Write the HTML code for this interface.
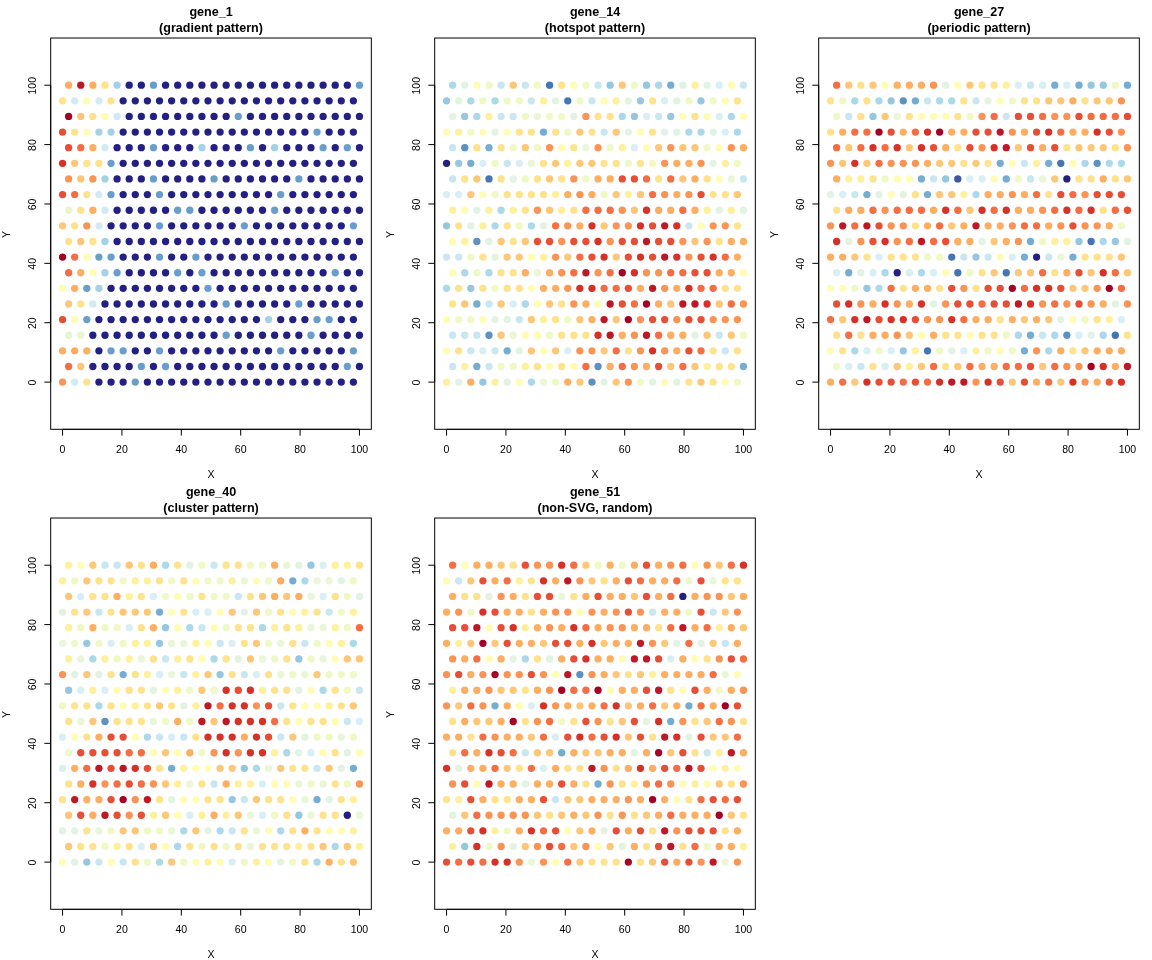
<!DOCTYPE html>
<html><head><meta charset="utf-8"><title>Spatial gene expression patterns</title>
<style>
html,body{margin:0;padding:0;background:#fff;}
body{width:1152px;height:960px;overflow:hidden;font-family:"Liberation Sans",sans-serif;}
svg{display:block;will-change:transform;}
text{font-family:"Liberation Sans",sans-serif;fill:#000;text-anchor:middle;}
.a{font-size:10.56px;}
.t{font-size:12.56px;font-weight:bold;}
</style></head><body>
<svg width="1152" height="960" viewBox="0 0 1152 960">
<rect width="1152" height="960" fill="#fff"/>
<g>
<g fill="#FDAE61"><circle cx="68.62" cy="85.22" r="3.65"/><circle cx="92.86" cy="85.22" r="3.65"/><circle cx="92.86" cy="147.72" r="3.65"/><circle cx="92.86" cy="210.23" r="3.65"/><circle cx="80.74" cy="272.73" r="3.65"/><circle cx="74.68" cy="288.35" r="3.65"/><circle cx="62.56" cy="350.86" r="3.65"/><circle cx="74.68" cy="350.86" r="3.65"/><circle cx="86.8" cy="350.86" r="3.65"/></g>
<g fill="#BE1826"><circle cx="80.74" cy="85.22" r="3.65"/></g>
<g fill="#FEE38C"><circle cx="104.98" cy="85.22" r="3.65"/><circle cx="62.56" cy="100.85" r="3.65"/><circle cx="111.04" cy="100.85" r="3.65"/><circle cx="92.86" cy="116.47" r="3.65"/><circle cx="74.68" cy="132.1" r="3.65"/><circle cx="86.8" cy="163.35" r="3.65"/><circle cx="98.92" cy="163.35" r="3.65"/><circle cx="86.8" cy="194.6" r="3.65"/><circle cx="80.74" cy="210.23" r="3.65"/><circle cx="74.68" cy="225.85" r="3.65"/><circle cx="68.62" cy="241.48" r="3.65"/><circle cx="92.86" cy="241.48" r="3.65"/><circle cx="80.74" cy="303.98" r="3.65"/><circle cx="86.8" cy="382.11" r="3.65"/></g>
<g fill="#A3D2E5"><circle cx="117.09" cy="85.22" r="3.65"/><circle cx="98.92" cy="132.1" r="3.65"/><circle cx="111.04" cy="132.1" r="3.65"/><circle cx="201.92" cy="147.72" r="3.65"/><circle cx="274.63" cy="147.72" r="3.65"/><circle cx="104.98" cy="178.97" r="3.65"/><circle cx="104.98" cy="241.48" r="3.65"/><circle cx="104.98" cy="272.73" r="3.65"/><circle cx="98.92" cy="288.35" r="3.65"/><circle cx="268.57" cy="319.61" r="3.65"/></g>
<g fill="#242083"><circle cx="129.21" cy="85.22" r="3.65"/><circle cx="141.33" cy="85.22" r="3.65"/><circle cx="165.57" cy="85.22" r="3.65"/><circle cx="177.68" cy="85.22" r="3.65"/><circle cx="189.8" cy="85.22" r="3.65"/><circle cx="201.92" cy="85.22" r="3.65"/><circle cx="214.04" cy="85.22" r="3.65"/><circle cx="226.16" cy="85.22" r="3.65"/><circle cx="238.27" cy="85.22" r="3.65"/><circle cx="250.39" cy="85.22" r="3.65"/><circle cx="262.51" cy="85.22" r="3.65"/><circle cx="274.63" cy="85.22" r="3.65"/><circle cx="286.74" cy="85.22" r="3.65"/><circle cx="298.86" cy="85.22" r="3.65"/><circle cx="310.98" cy="85.22" r="3.65"/><circle cx="323.1" cy="85.22" r="3.65"/><circle cx="335.22" cy="85.22" r="3.65"/><circle cx="347.33" cy="85.22" r="3.65"/><circle cx="123.15" cy="100.85" r="3.65"/><circle cx="135.27" cy="100.85" r="3.65"/><circle cx="147.39" cy="100.85" r="3.65"/><circle cx="159.51" cy="100.85" r="3.65"/><circle cx="171.62" cy="100.85" r="3.65"/><circle cx="183.74" cy="100.85" r="3.65"/><circle cx="195.86" cy="100.85" r="3.65"/><circle cx="207.98" cy="100.85" r="3.65"/><circle cx="220.1" cy="100.85" r="3.65"/><circle cx="232.21" cy="100.85" r="3.65"/><circle cx="244.33" cy="100.85" r="3.65"/><circle cx="256.45" cy="100.85" r="3.65"/><circle cx="268.57" cy="100.85" r="3.65"/><circle cx="280.69" cy="100.85" r="3.65"/><circle cx="292.8" cy="100.85" r="3.65"/><circle cx="304.92" cy="100.85" r="3.65"/><circle cx="317.04" cy="100.85" r="3.65"/><circle cx="329.16" cy="100.85" r="3.65"/><circle cx="341.28" cy="100.85" r="3.65"/><circle cx="353.39" cy="100.85" r="3.65"/><circle cx="129.21" cy="116.47" r="3.65"/><circle cx="141.33" cy="116.47" r="3.65"/><circle cx="153.45" cy="116.47" r="3.65"/><circle cx="165.57" cy="116.47" r="3.65"/><circle cx="177.68" cy="116.47" r="3.65"/><circle cx="189.8" cy="116.47" r="3.65"/><circle cx="201.92" cy="116.47" r="3.65"/><circle cx="214.04" cy="116.47" r="3.65"/><circle cx="226.16" cy="116.47" r="3.65"/><circle cx="250.39" cy="116.47" r="3.65"/><circle cx="262.51" cy="116.47" r="3.65"/><circle cx="274.63" cy="116.47" r="3.65"/><circle cx="286.74" cy="116.47" r="3.65"/><circle cx="298.86" cy="116.47" r="3.65"/><circle cx="310.98" cy="116.47" r="3.65"/><circle cx="323.1" cy="116.47" r="3.65"/><circle cx="335.22" cy="116.47" r="3.65"/><circle cx="347.33" cy="116.47" r="3.65"/><circle cx="359.45" cy="116.47" r="3.65"/><circle cx="123.15" cy="132.1" r="3.65"/><circle cx="135.27" cy="132.1" r="3.65"/><circle cx="147.39" cy="132.1" r="3.65"/><circle cx="159.51" cy="132.1" r="3.65"/><circle cx="171.62" cy="132.1" r="3.65"/><circle cx="183.74" cy="132.1" r="3.65"/><circle cx="195.86" cy="132.1" r="3.65"/><circle cx="207.98" cy="132.1" r="3.65"/><circle cx="220.1" cy="132.1" r="3.65"/><circle cx="232.21" cy="132.1" r="3.65"/><circle cx="244.33" cy="132.1" r="3.65"/><circle cx="256.45" cy="132.1" r="3.65"/><circle cx="268.57" cy="132.1" r="3.65"/><circle cx="280.69" cy="132.1" r="3.65"/><circle cx="292.8" cy="132.1" r="3.65"/><circle cx="304.92" cy="132.1" r="3.65"/><circle cx="329.16" cy="132.1" r="3.65"/><circle cx="341.28" cy="132.1" r="3.65"/><circle cx="353.39" cy="132.1" r="3.65"/><circle cx="117.09" cy="147.72" r="3.65"/><circle cx="129.21" cy="147.72" r="3.65"/><circle cx="141.33" cy="147.72" r="3.65"/><circle cx="165.57" cy="147.72" r="3.65"/><circle cx="177.68" cy="147.72" r="3.65"/><circle cx="189.8" cy="147.72" r="3.65"/><circle cx="214.04" cy="147.72" r="3.65"/><circle cx="226.16" cy="147.72" r="3.65"/><circle cx="238.27" cy="147.72" r="3.65"/><circle cx="262.51" cy="147.72" r="3.65"/><circle cx="286.74" cy="147.72" r="3.65"/><circle cx="298.86" cy="147.72" r="3.65"/><circle cx="310.98" cy="147.72" r="3.65"/><circle cx="335.22" cy="147.72" r="3.65"/><circle cx="359.45" cy="147.72" r="3.65"/><circle cx="123.15" cy="163.35" r="3.65"/><circle cx="135.27" cy="163.35" r="3.65"/><circle cx="147.39" cy="163.35" r="3.65"/><circle cx="159.51" cy="163.35" r="3.65"/><circle cx="171.62" cy="163.35" r="3.65"/><circle cx="183.74" cy="163.35" r="3.65"/><circle cx="195.86" cy="163.35" r="3.65"/><circle cx="207.98" cy="163.35" r="3.65"/><circle cx="220.1" cy="163.35" r="3.65"/><circle cx="232.21" cy="163.35" r="3.65"/><circle cx="244.33" cy="163.35" r="3.65"/><circle cx="256.45" cy="163.35" r="3.65"/><circle cx="268.57" cy="163.35" r="3.65"/><circle cx="280.69" cy="163.35" r="3.65"/><circle cx="292.8" cy="163.35" r="3.65"/><circle cx="304.92" cy="163.35" r="3.65"/><circle cx="317.04" cy="163.35" r="3.65"/><circle cx="329.16" cy="163.35" r="3.65"/><circle cx="341.28" cy="163.35" r="3.65"/><circle cx="353.39" cy="163.35" r="3.65"/><circle cx="117.09" cy="178.97" r="3.65"/><circle cx="129.21" cy="178.97" r="3.65"/><circle cx="141.33" cy="178.97" r="3.65"/><circle cx="165.57" cy="178.97" r="3.65"/><circle cx="177.68" cy="178.97" r="3.65"/><circle cx="189.8" cy="178.97" r="3.65"/><circle cx="201.92" cy="178.97" r="3.65"/><circle cx="226.16" cy="178.97" r="3.65"/><circle cx="238.27" cy="178.97" r="3.65"/><circle cx="250.39" cy="178.97" r="3.65"/><circle cx="262.51" cy="178.97" r="3.65"/><circle cx="274.63" cy="178.97" r="3.65"/><circle cx="286.74" cy="178.97" r="3.65"/><circle cx="310.98" cy="178.97" r="3.65"/><circle cx="323.1" cy="178.97" r="3.65"/><circle cx="335.22" cy="178.97" r="3.65"/><circle cx="347.33" cy="178.97" r="3.65"/><circle cx="359.45" cy="178.97" r="3.65"/><circle cx="123.15" cy="194.6" r="3.65"/><circle cx="135.27" cy="194.6" r="3.65"/><circle cx="147.39" cy="194.6" r="3.65"/><circle cx="171.62" cy="194.6" r="3.65"/><circle cx="183.74" cy="194.6" r="3.65"/><circle cx="195.86" cy="194.6" r="3.65"/><circle cx="207.98" cy="194.6" r="3.65"/><circle cx="220.1" cy="194.6" r="3.65"/><circle cx="232.21" cy="194.6" r="3.65"/><circle cx="244.33" cy="194.6" r="3.65"/><circle cx="256.45" cy="194.6" r="3.65"/><circle cx="268.57" cy="194.6" r="3.65"/><circle cx="292.8" cy="194.6" r="3.65"/><circle cx="304.92" cy="194.6" r="3.65"/><circle cx="317.04" cy="194.6" r="3.65"/><circle cx="329.16" cy="194.6" r="3.65"/><circle cx="341.28" cy="194.6" r="3.65"/><circle cx="353.39" cy="194.6" r="3.65"/><circle cx="117.09" cy="210.23" r="3.65"/><circle cx="129.21" cy="210.23" r="3.65"/><circle cx="141.33" cy="210.23" r="3.65"/><circle cx="153.45" cy="210.23" r="3.65"/><circle cx="165.57" cy="210.23" r="3.65"/><circle cx="201.92" cy="210.23" r="3.65"/><circle cx="214.04" cy="210.23" r="3.65"/><circle cx="226.16" cy="210.23" r="3.65"/><circle cx="238.27" cy="210.23" r="3.65"/><circle cx="250.39" cy="210.23" r="3.65"/><circle cx="262.51" cy="210.23" r="3.65"/><circle cx="286.74" cy="210.23" r="3.65"/><circle cx="298.86" cy="210.23" r="3.65"/><circle cx="310.98" cy="210.23" r="3.65"/><circle cx="323.1" cy="210.23" r="3.65"/><circle cx="335.22" cy="210.23" r="3.65"/><circle cx="347.33" cy="210.23" r="3.65"/><circle cx="359.45" cy="210.23" r="3.65"/><circle cx="111.04" cy="225.85" r="3.65"/><circle cx="123.15" cy="225.85" r="3.65"/><circle cx="135.27" cy="225.85" r="3.65"/><circle cx="147.39" cy="225.85" r="3.65"/><circle cx="171.62" cy="225.85" r="3.65"/><circle cx="183.74" cy="225.85" r="3.65"/><circle cx="195.86" cy="225.85" r="3.65"/><circle cx="207.98" cy="225.85" r="3.65"/><circle cx="220.1" cy="225.85" r="3.65"/><circle cx="232.21" cy="225.85" r="3.65"/><circle cx="256.45" cy="225.85" r="3.65"/><circle cx="268.57" cy="225.85" r="3.65"/><circle cx="280.69" cy="225.85" r="3.65"/><circle cx="292.8" cy="225.85" r="3.65"/><circle cx="304.92" cy="225.85" r="3.65"/><circle cx="317.04" cy="225.85" r="3.65"/><circle cx="329.16" cy="225.85" r="3.65"/><circle cx="341.28" cy="225.85" r="3.65"/><circle cx="117.09" cy="241.48" r="3.65"/><circle cx="129.21" cy="241.48" r="3.65"/><circle cx="141.33" cy="241.48" r="3.65"/><circle cx="153.45" cy="241.48" r="3.65"/><circle cx="165.57" cy="241.48" r="3.65"/><circle cx="177.68" cy="241.48" r="3.65"/><circle cx="189.8" cy="241.48" r="3.65"/><circle cx="201.92" cy="241.48" r="3.65"/><circle cx="214.04" cy="241.48" r="3.65"/><circle cx="226.16" cy="241.48" r="3.65"/><circle cx="238.27" cy="241.48" r="3.65"/><circle cx="250.39" cy="241.48" r="3.65"/><circle cx="262.51" cy="241.48" r="3.65"/><circle cx="274.63" cy="241.48" r="3.65"/><circle cx="286.74" cy="241.48" r="3.65"/><circle cx="298.86" cy="241.48" r="3.65"/><circle cx="310.98" cy="241.48" r="3.65"/><circle cx="323.1" cy="241.48" r="3.65"/><circle cx="335.22" cy="241.48" r="3.65"/><circle cx="347.33" cy="241.48" r="3.65"/><circle cx="359.45" cy="241.48" r="3.65"/><circle cx="123.15" cy="257.1" r="3.65"/><circle cx="135.27" cy="257.1" r="3.65"/><circle cx="147.39" cy="257.1" r="3.65"/><circle cx="171.62" cy="257.1" r="3.65"/><circle cx="183.74" cy="257.1" r="3.65"/><circle cx="207.98" cy="257.1" r="3.65"/><circle cx="220.1" cy="257.1" r="3.65"/><circle cx="232.21" cy="257.1" r="3.65"/><circle cx="244.33" cy="257.1" r="3.65"/><circle cx="256.45" cy="257.1" r="3.65"/><circle cx="268.57" cy="257.1" r="3.65"/><circle cx="280.69" cy="257.1" r="3.65"/><circle cx="292.8" cy="257.1" r="3.65"/><circle cx="304.92" cy="257.1" r="3.65"/><circle cx="317.04" cy="257.1" r="3.65"/><circle cx="329.16" cy="257.1" r="3.65"/><circle cx="341.28" cy="257.1" r="3.65"/><circle cx="353.39" cy="257.1" r="3.65"/><circle cx="129.21" cy="272.73" r="3.65"/><circle cx="141.33" cy="272.73" r="3.65"/><circle cx="153.45" cy="272.73" r="3.65"/><circle cx="165.57" cy="272.73" r="3.65"/><circle cx="189.8" cy="272.73" r="3.65"/><circle cx="214.04" cy="272.73" r="3.65"/><circle cx="226.16" cy="272.73" r="3.65"/><circle cx="238.27" cy="272.73" r="3.65"/><circle cx="250.39" cy="272.73" r="3.65"/><circle cx="262.51" cy="272.73" r="3.65"/><circle cx="274.63" cy="272.73" r="3.65"/><circle cx="286.74" cy="272.73" r="3.65"/><circle cx="298.86" cy="272.73" r="3.65"/><circle cx="310.98" cy="272.73" r="3.65"/><circle cx="323.1" cy="272.73" r="3.65"/><circle cx="347.33" cy="272.73" r="3.65"/><circle cx="359.45" cy="272.73" r="3.65"/><circle cx="111.04" cy="288.35" r="3.65"/><circle cx="123.15" cy="288.35" r="3.65"/><circle cx="135.27" cy="288.35" r="3.65"/><circle cx="147.39" cy="288.35" r="3.65"/><circle cx="159.51" cy="288.35" r="3.65"/><circle cx="171.62" cy="288.35" r="3.65"/><circle cx="183.74" cy="288.35" r="3.65"/><circle cx="195.86" cy="288.35" r="3.65"/><circle cx="220.1" cy="288.35" r="3.65"/><circle cx="232.21" cy="288.35" r="3.65"/><circle cx="244.33" cy="288.35" r="3.65"/><circle cx="256.45" cy="288.35" r="3.65"/><circle cx="268.57" cy="288.35" r="3.65"/><circle cx="280.69" cy="288.35" r="3.65"/><circle cx="292.8" cy="288.35" r="3.65"/><circle cx="304.92" cy="288.35" r="3.65"/><circle cx="317.04" cy="288.35" r="3.65"/><circle cx="329.16" cy="288.35" r="3.65"/><circle cx="341.28" cy="288.35" r="3.65"/><circle cx="353.39" cy="288.35" r="3.65"/><circle cx="104.98" cy="303.98" r="3.65"/><circle cx="117.09" cy="303.98" r="3.65"/><circle cx="129.21" cy="303.98" r="3.65"/><circle cx="141.33" cy="303.98" r="3.65"/><circle cx="153.45" cy="303.98" r="3.65"/><circle cx="165.57" cy="303.98" r="3.65"/><circle cx="177.68" cy="303.98" r="3.65"/><circle cx="189.8" cy="303.98" r="3.65"/><circle cx="201.92" cy="303.98" r="3.65"/><circle cx="214.04" cy="303.98" r="3.65"/><circle cx="238.27" cy="303.98" r="3.65"/><circle cx="250.39" cy="303.98" r="3.65"/><circle cx="262.51" cy="303.98" r="3.65"/><circle cx="274.63" cy="303.98" r="3.65"/><circle cx="286.74" cy="303.98" r="3.65"/><circle cx="310.98" cy="303.98" r="3.65"/><circle cx="323.1" cy="303.98" r="3.65"/><circle cx="335.22" cy="303.98" r="3.65"/><circle cx="347.33" cy="303.98" r="3.65"/><circle cx="359.45" cy="303.98" r="3.65"/><circle cx="98.92" cy="319.61" r="3.65"/><circle cx="111.04" cy="319.61" r="3.65"/><circle cx="123.15" cy="319.61" r="3.65"/><circle cx="135.27" cy="319.61" r="3.65"/><circle cx="147.39" cy="319.61" r="3.65"/><circle cx="159.51" cy="319.61" r="3.65"/><circle cx="171.62" cy="319.61" r="3.65"/><circle cx="183.74" cy="319.61" r="3.65"/><circle cx="195.86" cy="319.61" r="3.65"/><circle cx="207.98" cy="319.61" r="3.65"/><circle cx="220.1" cy="319.61" r="3.65"/><circle cx="232.21" cy="319.61" r="3.65"/><circle cx="244.33" cy="319.61" r="3.65"/><circle cx="256.45" cy="319.61" r="3.65"/><circle cx="280.69" cy="319.61" r="3.65"/><circle cx="292.8" cy="319.61" r="3.65"/><circle cx="304.92" cy="319.61" r="3.65"/><circle cx="341.28" cy="319.61" r="3.65"/><circle cx="353.39" cy="319.61" r="3.65"/><circle cx="92.86" cy="335.23" r="3.65"/><circle cx="104.98" cy="335.23" r="3.65"/><circle cx="117.09" cy="335.23" r="3.65"/><circle cx="129.21" cy="335.23" r="3.65"/><circle cx="141.33" cy="335.23" r="3.65"/><circle cx="153.45" cy="335.23" r="3.65"/><circle cx="165.57" cy="335.23" r="3.65"/><circle cx="177.68" cy="335.23" r="3.65"/><circle cx="189.8" cy="335.23" r="3.65"/><circle cx="201.92" cy="335.23" r="3.65"/><circle cx="214.04" cy="335.23" r="3.65"/><circle cx="238.27" cy="335.23" r="3.65"/><circle cx="250.39" cy="335.23" r="3.65"/><circle cx="262.51" cy="335.23" r="3.65"/><circle cx="274.63" cy="335.23" r="3.65"/><circle cx="286.74" cy="335.23" r="3.65"/><circle cx="298.86" cy="335.23" r="3.65"/><circle cx="323.1" cy="335.23" r="3.65"/><circle cx="335.22" cy="335.23" r="3.65"/><circle cx="347.33" cy="335.23" r="3.65"/><circle cx="359.45" cy="335.23" r="3.65"/><circle cx="98.92" cy="350.86" r="3.65"/><circle cx="135.27" cy="350.86" r="3.65"/><circle cx="147.39" cy="350.86" r="3.65"/><circle cx="171.62" cy="350.86" r="3.65"/><circle cx="183.74" cy="350.86" r="3.65"/><circle cx="195.86" cy="350.86" r="3.65"/><circle cx="207.98" cy="350.86" r="3.65"/><circle cx="220.1" cy="350.86" r="3.65"/><circle cx="232.21" cy="350.86" r="3.65"/><circle cx="244.33" cy="350.86" r="3.65"/><circle cx="256.45" cy="350.86" r="3.65"/><circle cx="268.57" cy="350.86" r="3.65"/><circle cx="292.8" cy="350.86" r="3.65"/><circle cx="304.92" cy="350.86" r="3.65"/><circle cx="317.04" cy="350.86" r="3.65"/><circle cx="329.16" cy="350.86" r="3.65"/><circle cx="341.28" cy="350.86" r="3.65"/><circle cx="92.86" cy="366.48" r="3.65"/><circle cx="104.98" cy="366.48" r="3.65"/><circle cx="117.09" cy="366.48" r="3.65"/><circle cx="129.21" cy="366.48" r="3.65"/><circle cx="153.45" cy="366.48" r="3.65"/><circle cx="177.68" cy="366.48" r="3.65"/><circle cx="189.8" cy="366.48" r="3.65"/><circle cx="201.92" cy="366.48" r="3.65"/><circle cx="214.04" cy="366.48" r="3.65"/><circle cx="226.16" cy="366.48" r="3.65"/><circle cx="238.27" cy="366.48" r="3.65"/><circle cx="250.39" cy="366.48" r="3.65"/><circle cx="262.51" cy="366.48" r="3.65"/><circle cx="274.63" cy="366.48" r="3.65"/><circle cx="286.74" cy="366.48" r="3.65"/><circle cx="298.86" cy="366.48" r="3.65"/><circle cx="310.98" cy="366.48" r="3.65"/><circle cx="323.1" cy="366.48" r="3.65"/><circle cx="335.22" cy="366.48" r="3.65"/><circle cx="359.45" cy="366.48" r="3.65"/><circle cx="98.92" cy="382.11" r="3.65"/><circle cx="111.04" cy="382.11" r="3.65"/><circle cx="123.15" cy="382.11" r="3.65"/><circle cx="147.39" cy="382.11" r="3.65"/><circle cx="159.51" cy="382.11" r="3.65"/><circle cx="171.62" cy="382.11" r="3.65"/><circle cx="183.74" cy="382.11" r="3.65"/><circle cx="195.86" cy="382.11" r="3.65"/><circle cx="207.98" cy="382.11" r="3.65"/><circle cx="220.1" cy="382.11" r="3.65"/><circle cx="232.21" cy="382.11" r="3.65"/><circle cx="244.33" cy="382.11" r="3.65"/><circle cx="256.45" cy="382.11" r="3.65"/><circle cx="268.57" cy="382.11" r="3.65"/><circle cx="280.69" cy="382.11" r="3.65"/><circle cx="292.8" cy="382.11" r="3.65"/><circle cx="304.92" cy="382.11" r="3.65"/><circle cx="317.04" cy="382.11" r="3.65"/><circle cx="329.16" cy="382.11" r="3.65"/><circle cx="341.28" cy="382.11" r="3.65"/><circle cx="353.39" cy="382.11" r="3.65"/></g>
<g fill="#689FCA"><circle cx="153.45" cy="85.22" r="3.65"/><circle cx="359.45" cy="85.22" r="3.65"/><circle cx="238.27" cy="116.47" r="3.65"/><circle cx="317.04" cy="132.1" r="3.65"/><circle cx="153.45" cy="147.72" r="3.65"/><circle cx="250.39" cy="147.72" r="3.65"/><circle cx="323.1" cy="147.72" r="3.65"/><circle cx="347.33" cy="147.72" r="3.65"/><circle cx="111.04" cy="163.35" r="3.65"/><circle cx="153.45" cy="178.97" r="3.65"/><circle cx="214.04" cy="178.97" r="3.65"/><circle cx="298.86" cy="178.97" r="3.65"/><circle cx="111.04" cy="194.6" r="3.65"/><circle cx="159.51" cy="194.6" r="3.65"/><circle cx="280.69" cy="194.6" r="3.65"/><circle cx="177.68" cy="210.23" r="3.65"/><circle cx="189.8" cy="210.23" r="3.65"/><circle cx="274.63" cy="210.23" r="3.65"/><circle cx="159.51" cy="225.85" r="3.65"/><circle cx="244.33" cy="225.85" r="3.65"/><circle cx="353.39" cy="225.85" r="3.65"/><circle cx="98.92" cy="257.1" r="3.65"/><circle cx="111.04" cy="257.1" r="3.65"/><circle cx="159.51" cy="257.1" r="3.65"/><circle cx="195.86" cy="257.1" r="3.65"/><circle cx="117.09" cy="272.73" r="3.65"/><circle cx="177.68" cy="272.73" r="3.65"/><circle cx="201.92" cy="272.73" r="3.65"/><circle cx="335.22" cy="272.73" r="3.65"/><circle cx="86.8" cy="288.35" r="3.65"/><circle cx="207.98" cy="288.35" r="3.65"/><circle cx="226.16" cy="303.98" r="3.65"/><circle cx="298.86" cy="303.98" r="3.65"/><circle cx="86.8" cy="319.61" r="3.65"/><circle cx="317.04" cy="319.61" r="3.65"/><circle cx="329.16" cy="319.61" r="3.65"/><circle cx="226.16" cy="335.23" r="3.65"/><circle cx="310.98" cy="335.23" r="3.65"/><circle cx="111.04" cy="350.86" r="3.65"/><circle cx="123.15" cy="350.86" r="3.65"/><circle cx="159.51" cy="350.86" r="3.65"/><circle cx="280.69" cy="350.86" r="3.65"/><circle cx="353.39" cy="350.86" r="3.65"/><circle cx="141.33" cy="366.48" r="3.65"/><circle cx="165.57" cy="366.48" r="3.65"/><circle cx="347.33" cy="366.48" r="3.65"/><circle cx="135.27" cy="382.11" r="3.65"/></g>
<g fill="#D0EBF4"><circle cx="74.68" cy="100.85" r="3.65"/><circle cx="98.92" cy="100.85" r="3.65"/><circle cx="117.09" cy="116.47" r="3.65"/><circle cx="104.98" cy="147.72" r="3.65"/><circle cx="98.92" cy="194.6" r="3.65"/><circle cx="104.98" cy="210.23" r="3.65"/><circle cx="98.92" cy="225.85" r="3.65"/><circle cx="92.86" cy="303.98" r="3.65"/><circle cx="74.68" cy="382.11" r="3.65"/></g>
<g fill="#FFFDB4"><circle cx="86.8" cy="100.85" r="3.65"/><circle cx="104.98" cy="116.47" r="3.65"/><circle cx="86.8" cy="132.1" r="3.65"/><circle cx="86.8" cy="257.1" r="3.65"/><circle cx="92.86" cy="272.73" r="3.65"/><circle cx="62.56" cy="288.35" r="3.65"/><circle cx="74.68" cy="319.61" r="3.65"/></g>
<g fill="#A50026"><circle cx="68.62" cy="116.47" r="3.65"/><circle cx="62.56" cy="257.1" r="3.65"/></g>
<g fill="#FEC778"><circle cx="80.74" cy="116.47" r="3.65"/><circle cx="74.68" cy="163.35" r="3.65"/><circle cx="80.74" cy="178.97" r="3.65"/><circle cx="62.56" cy="225.85" r="3.65"/><circle cx="80.74" cy="241.48" r="3.65"/><circle cx="68.62" cy="303.98" r="3.65"/><circle cx="80.74" cy="366.48" r="3.65"/></g>
<g fill="#E64E35"><circle cx="62.56" cy="132.1" r="3.65"/><circle cx="68.62" cy="147.72" r="3.65"/><circle cx="62.56" cy="194.6" r="3.65"/><circle cx="62.56" cy="319.61" r="3.65"/></g>
<g fill="#F46D43"><circle cx="80.74" cy="147.72" r="3.65"/><circle cx="74.68" cy="194.6" r="3.65"/><circle cx="74.68" cy="257.1" r="3.65"/><circle cx="68.62" cy="272.73" r="3.65"/><circle cx="68.62" cy="366.48" r="3.65"/></g>
<g fill="#D73027"><circle cx="62.56" cy="163.35" r="3.65"/></g>
<g fill="#F99455"><circle cx="68.62" cy="178.97" r="3.65"/><circle cx="92.86" cy="178.97" r="3.65"/><circle cx="86.8" cy="225.85" r="3.65"/><circle cx="62.56" cy="382.11" r="3.65"/></g>
<g fill="#E9F6CD"><circle cx="68.62" cy="210.23" r="3.65"/><circle cx="68.62" cy="335.23" r="3.65"/><circle cx="80.74" cy="335.23" r="3.65"/></g>
<rect x="50.69" y="38.02" width="320.64" height="391.3" fill="none" stroke="#000" stroke-width="1"/>
<path d="M62.56 429.31v6.34M50.69 382.11h-6.34M121.94 429.31v6.34M50.69 322.73h-6.34M181.32 429.31v6.34M50.69 263.35h-6.34M240.7 429.31v6.34M50.69 203.98h-6.34M300.07 429.31v6.34M50.69 144.6h-6.34M359.45 429.31v6.34M50.69 85.22h-6.34M62.56 429.31H359.45M50.69 382.11V85.22" stroke="#000" stroke-width="1" fill="none"/>
<text class="a" x="62.56" y="452.72">0</text>
<text class="a" transform="translate(35.68 382.61) rotate(-90)">0</text>
<text class="a" x="121.94" y="452.72">20</text>
<text class="a" transform="translate(35.68 323.23) rotate(-90)">20</text>
<text class="a" x="181.32" y="452.72">40</text>
<text class="a" transform="translate(35.68 263.85) rotate(-90)">40</text>
<text class="a" x="240.7" y="452.72">60</text>
<text class="a" transform="translate(35.68 204.48) rotate(-90)">60</text>
<text class="a" x="300.07" y="452.72">80</text>
<text class="a" transform="translate(35.68 145.1) rotate(-90)">80</text>
<text class="a" x="359.45" y="452.72">100</text>
<text class="a" transform="translate(35.68 85.72) rotate(-90)">100</text>
<text class="a" x="211.01" y="478.27">X</text>
<text class="a" transform="translate(10.14 234.46) rotate(-90)">Y</text>
<text class="t" x="211.01" y="15.7">gene_1</text>
<text class="t" x="211.01" y="32">(gradient pattern)</text>
</g>
<g>
<g fill="#ABD9E9"><circle cx="452.62" cy="85.22" r="3.65"/><circle cx="658.63" cy="85.22" r="3.65"/><circle cx="470.8" cy="100.85" r="3.65"/><circle cx="495.04" cy="100.85" r="3.65"/><circle cx="476.86" cy="116.47" r="3.65"/><circle cx="622.27" cy="116.47" r="3.65"/><circle cx="731.33" cy="116.47" r="3.65"/><circle cx="688.92" cy="132.1" r="3.65"/><circle cx="701.04" cy="132.1" r="3.65"/><circle cx="737.39" cy="132.1" r="3.65"/><circle cx="501.09" cy="210.23" r="3.65"/><circle cx="495.04" cy="225.85" r="3.65"/><circle cx="531.39" cy="225.85" r="3.65"/><circle cx="464.74" cy="272.73" r="3.65"/><circle cx="488.98" cy="272.73" r="3.65"/><circle cx="446.56" cy="288.35" r="3.65"/><circle cx="525.33" cy="303.98" r="3.65"/><circle cx="531.39" cy="382.11" r="3.65"/></g>
<g fill="#E2F3E4"><circle cx="464.74" cy="85.22" r="3.65"/><circle cx="682.86" cy="85.22" r="3.65"/><circle cx="707.1" cy="85.22" r="3.65"/><circle cx="458.68" cy="100.85" r="3.65"/><circle cx="555.62" cy="100.85" r="3.65"/><circle cx="628.33" cy="100.85" r="3.65"/><circle cx="676.8" cy="100.85" r="3.65"/><circle cx="452.62" cy="116.47" r="3.65"/><circle cx="573.8" cy="116.47" r="3.65"/><circle cx="495.04" cy="132.1" r="3.65"/><circle cx="628.33" cy="132.1" r="3.65"/><circle cx="664.69" cy="132.1" r="3.65"/><circle cx="676.8" cy="132.1" r="3.65"/><circle cx="713.16" cy="132.1" r="3.65"/><circle cx="713.16" cy="163.35" r="3.65"/><circle cx="513.21" cy="178.97" r="3.65"/><circle cx="476.86" cy="210.23" r="3.65"/><circle cx="719.22" cy="210.23" r="3.65"/><circle cx="743.45" cy="210.23" r="3.65"/><circle cx="470.8" cy="225.85" r="3.65"/><circle cx="543.51" cy="225.85" r="3.65"/><circle cx="488.98" cy="241.48" r="3.65"/><circle cx="495.04" cy="257.1" r="3.65"/><circle cx="495.04" cy="319.61" r="3.65"/><circle cx="507.15" cy="319.61" r="3.65"/><circle cx="694.98" cy="335.23" r="3.65"/><circle cx="519.27" cy="350.86" r="3.65"/><circle cx="458.68" cy="382.11" r="3.65"/><circle cx="507.15" cy="382.11" r="3.65"/><circle cx="604.1" cy="382.11" r="3.65"/><circle cx="652.57" cy="382.11" r="3.65"/><circle cx="676.8" cy="382.11" r="3.65"/></g>
<g fill="#FFFDB4"><circle cx="476.86" cy="85.22" r="3.65"/><circle cx="573.8" cy="85.22" r="3.65"/><circle cx="731.33" cy="85.22" r="3.65"/><circle cx="604.1" cy="100.85" r="3.65"/><circle cx="725.28" cy="100.85" r="3.65"/><circle cx="682.86" cy="116.47" r="3.65"/><circle cx="707.1" cy="116.47" r="3.65"/><circle cx="743.45" cy="116.47" r="3.65"/><circle cx="446.56" cy="132.1" r="3.65"/><circle cx="482.92" cy="132.1" r="3.65"/><circle cx="507.15" cy="132.1" r="3.65"/><circle cx="640.45" cy="132.1" r="3.65"/><circle cx="561.68" cy="147.72" r="3.65"/><circle cx="646.51" cy="147.72" r="3.65"/><circle cx="719.22" cy="147.72" r="3.65"/><circle cx="719.22" cy="178.97" r="3.65"/><circle cx="482.92" cy="194.6" r="3.65"/><circle cx="464.74" cy="210.23" r="3.65"/><circle cx="701.04" cy="225.85" r="3.65"/><circle cx="452.62" cy="241.48" r="3.65"/><circle cx="531.39" cy="257.1" r="3.65"/><circle cx="452.62" cy="272.73" r="3.65"/><circle cx="743.45" cy="272.73" r="3.65"/><circle cx="531.39" cy="288.35" r="3.65"/><circle cx="537.45" cy="303.98" r="3.65"/><circle cx="598.04" cy="303.98" r="3.65"/><circle cx="446.56" cy="319.61" r="3.65"/><circle cx="482.92" cy="319.61" r="3.65"/><circle cx="525.33" cy="335.23" r="3.65"/><circle cx="537.45" cy="335.23" r="3.65"/><circle cx="446.56" cy="350.86" r="3.65"/><circle cx="543.51" cy="350.86" r="3.65"/><circle cx="549.57" cy="366.48" r="3.65"/><circle cx="573.8" cy="366.48" r="3.65"/><circle cx="519.27" cy="382.11" r="3.65"/><circle cx="664.69" cy="382.11" r="3.65"/><circle cx="725.28" cy="382.11" r="3.65"/></g>
<g fill="#EFF9C6"><circle cx="488.98" cy="85.22" r="3.65"/><circle cx="537.45" cy="85.22" r="3.65"/><circle cx="585.92" cy="85.22" r="3.65"/><circle cx="634.39" cy="85.22" r="3.65"/><circle cx="482.92" cy="100.85" r="3.65"/><circle cx="507.15" cy="100.85" r="3.65"/><circle cx="519.27" cy="100.85" r="3.65"/><circle cx="579.86" cy="100.85" r="3.65"/><circle cx="688.92" cy="100.85" r="3.65"/><circle cx="713.16" cy="100.85" r="3.65"/><circle cx="525.33" cy="116.47" r="3.65"/><circle cx="549.57" cy="116.47" r="3.65"/><circle cx="561.68" cy="116.47" r="3.65"/><circle cx="470.8" cy="132.1" r="3.65"/><circle cx="567.74" cy="132.1" r="3.65"/><circle cx="513.21" cy="147.72" r="3.65"/><circle cx="537.45" cy="147.72" r="3.65"/><circle cx="610.16" cy="147.72" r="3.65"/><circle cx="707.1" cy="147.72" r="3.65"/><circle cx="495.04" cy="163.35" r="3.65"/><circle cx="628.33" cy="163.35" r="3.65"/><circle cx="652.57" cy="163.35" r="3.65"/><circle cx="737.39" cy="163.35" r="3.65"/><circle cx="525.33" cy="178.97" r="3.65"/><circle cx="585.92" cy="178.97" r="3.65"/><circle cx="495.04" cy="194.6" r="3.65"/><circle cx="604.1" cy="194.6" r="3.65"/><circle cx="519.27" cy="225.85" r="3.65"/><circle cx="470.8" cy="257.1" r="3.65"/><circle cx="476.86" cy="272.73" r="3.65"/><circle cx="495.04" cy="288.35" r="3.65"/><circle cx="458.68" cy="319.61" r="3.65"/><circle cx="470.8" cy="319.61" r="3.65"/><circle cx="567.74" cy="319.61" r="3.65"/><circle cx="549.57" cy="335.23" r="3.65"/><circle cx="743.45" cy="335.23" r="3.65"/><circle cx="501.09" cy="366.48" r="3.65"/><circle cx="513.21" cy="366.48" r="3.65"/><circle cx="555.62" cy="382.11" r="3.65"/><circle cx="640.45" cy="382.11" r="3.65"/><circle cx="737.39" cy="382.11" r="3.65"/></g>
<g fill="#C8E7F1"><circle cx="501.09" cy="85.22" r="3.65"/><circle cx="525.33" cy="85.22" r="3.65"/><circle cx="598.04" cy="85.22" r="3.65"/><circle cx="743.45" cy="85.22" r="3.65"/><circle cx="531.39" cy="100.85" r="3.65"/><circle cx="591.98" cy="100.85" r="3.65"/><circle cx="501.09" cy="116.47" r="3.65"/><circle cx="513.21" cy="116.47" r="3.65"/><circle cx="658.63" cy="116.47" r="3.65"/><circle cx="604.1" cy="132.1" r="3.65"/><circle cx="452.62" cy="147.72" r="3.65"/><circle cx="507.15" cy="163.35" r="3.65"/><circle cx="452.62" cy="178.97" r="3.65"/><circle cx="743.45" cy="178.97" r="3.65"/><circle cx="688.92" cy="225.85" r="3.65"/><circle cx="446.56" cy="257.1" r="3.65"/><circle cx="458.68" cy="257.1" r="3.65"/><circle cx="488.98" cy="303.98" r="3.65"/><circle cx="519.27" cy="319.61" r="3.65"/><circle cx="452.62" cy="335.23" r="3.65"/><circle cx="464.74" cy="335.23" r="3.65"/><circle cx="476.86" cy="335.23" r="3.65"/><circle cx="719.22" cy="335.23" r="3.65"/><circle cx="470.8" cy="350.86" r="3.65"/><circle cx="495.04" cy="350.86" r="3.65"/><circle cx="725.28" cy="350.86" r="3.65"/><circle cx="452.62" cy="366.48" r="3.65"/><circle cx="488.98" cy="366.48" r="3.65"/></g>
<g fill="#FEC778"><circle cx="513.21" cy="85.22" r="3.65"/><circle cx="622.27" cy="85.22" r="3.65"/><circle cx="579.86" cy="132.1" r="3.65"/><circle cx="616.21" cy="132.1" r="3.65"/><circle cx="525.33" cy="147.72" r="3.65"/><circle cx="658.63" cy="147.72" r="3.65"/><circle cx="682.86" cy="147.72" r="3.65"/><circle cx="694.98" cy="147.72" r="3.65"/><circle cx="555.62" cy="163.35" r="3.65"/><circle cx="579.86" cy="163.35" r="3.65"/><circle cx="591.98" cy="163.35" r="3.65"/><circle cx="476.86" cy="178.97" r="3.65"/><circle cx="549.57" cy="178.97" r="3.65"/><circle cx="682.86" cy="178.97" r="3.65"/><circle cx="470.8" cy="194.6" r="3.65"/><circle cx="616.21" cy="194.6" r="3.65"/><circle cx="640.45" cy="194.6" r="3.65"/><circle cx="737.39" cy="194.6" r="3.65"/><circle cx="549.57" cy="210.23" r="3.65"/><circle cx="634.39" cy="210.23" r="3.65"/><circle cx="604.1" cy="225.85" r="3.65"/><circle cx="501.09" cy="241.48" r="3.65"/><circle cx="525.33" cy="241.48" r="3.65"/><circle cx="694.98" cy="241.48" r="3.65"/><circle cx="507.15" cy="257.1" r="3.65"/><circle cx="519.27" cy="257.1" r="3.65"/><circle cx="567.74" cy="257.1" r="3.65"/><circle cx="616.21" cy="257.1" r="3.65"/><circle cx="464.74" cy="303.98" r="3.65"/><circle cx="501.09" cy="303.98" r="3.65"/><circle cx="549.57" cy="303.98" r="3.65"/><circle cx="670.74" cy="303.98" r="3.65"/><circle cx="719.22" cy="303.98" r="3.65"/><circle cx="531.39" cy="319.61" r="3.65"/><circle cx="579.86" cy="319.61" r="3.65"/><circle cx="616.21" cy="319.61" r="3.65"/><circle cx="501.09" cy="335.23" r="3.65"/><circle cx="707.1" cy="335.23" r="3.65"/><circle cx="731.33" cy="335.23" r="3.65"/><circle cx="531.39" cy="350.86" r="3.65"/><circle cx="555.62" cy="350.86" r="3.65"/><circle cx="604.1" cy="350.86" r="3.65"/><circle cx="670.74" cy="366.48" r="3.65"/><circle cx="694.98" cy="366.48" r="3.65"/><circle cx="579.86" cy="382.11" r="3.65"/><circle cx="616.21" cy="382.11" r="3.65"/><circle cx="701.04" cy="382.11" r="3.65"/></g>
<g fill="#4575B4"><circle cx="549.57" cy="85.22" r="3.65"/><circle cx="567.74" cy="100.85" r="3.65"/><circle cx="488.98" cy="178.97" r="3.65"/></g>
<g fill="#FEE38C"><circle cx="561.68" cy="85.22" r="3.65"/><circle cx="652.57" cy="100.85" r="3.65"/><circle cx="737.39" cy="100.85" r="3.65"/><circle cx="598.04" cy="116.47" r="3.65"/><circle cx="610.16" cy="116.47" r="3.65"/><circle cx="694.98" cy="116.47" r="3.65"/><circle cx="519.27" cy="132.1" r="3.65"/><circle cx="531.39" cy="132.1" r="3.65"/><circle cx="555.62" cy="132.1" r="3.65"/><circle cx="591.98" cy="132.1" r="3.65"/><circle cx="652.57" cy="132.1" r="3.65"/><circle cx="476.86" cy="147.72" r="3.65"/><circle cx="501.09" cy="147.72" r="3.65"/><circle cx="573.8" cy="147.72" r="3.65"/><circle cx="543.51" cy="163.35" r="3.65"/><circle cx="604.1" cy="163.35" r="3.65"/><circle cx="616.21" cy="163.35" r="3.65"/><circle cx="640.45" cy="163.35" r="3.65"/><circle cx="464.74" cy="178.97" r="3.65"/><circle cx="501.09" cy="178.97" r="3.65"/><circle cx="537.45" cy="178.97" r="3.65"/><circle cx="561.68" cy="178.97" r="3.65"/><circle cx="658.63" cy="178.97" r="3.65"/><circle cx="707.1" cy="178.97" r="3.65"/><circle cx="507.15" cy="194.6" r="3.65"/><circle cx="519.27" cy="194.6" r="3.65"/><circle cx="531.39" cy="194.6" r="3.65"/><circle cx="543.51" cy="194.6" r="3.65"/><circle cx="713.16" cy="194.6" r="3.65"/><circle cx="725.28" cy="194.6" r="3.65"/><circle cx="525.33" cy="210.23" r="3.65"/><circle cx="573.8" cy="210.23" r="3.65"/><circle cx="458.68" cy="225.85" r="3.65"/><circle cx="507.15" cy="225.85" r="3.65"/><circle cx="737.39" cy="225.85" r="3.65"/><circle cx="513.21" cy="241.48" r="3.65"/><circle cx="719.22" cy="241.48" r="3.65"/><circle cx="482.92" cy="257.1" r="3.65"/><circle cx="501.09" cy="272.73" r="3.65"/><circle cx="513.21" cy="272.73" r="3.65"/><circle cx="458.68" cy="288.35" r="3.65"/><circle cx="482.92" cy="288.35" r="3.65"/><circle cx="507.15" cy="288.35" r="3.65"/><circle cx="519.27" cy="288.35" r="3.65"/><circle cx="725.28" cy="288.35" r="3.65"/><circle cx="737.39" cy="288.35" r="3.65"/><circle cx="452.62" cy="303.98" r="3.65"/><circle cx="561.68" cy="303.98" r="3.65"/><circle cx="555.62" cy="319.61" r="3.65"/><circle cx="561.68" cy="335.23" r="3.65"/><circle cx="573.8" cy="335.23" r="3.65"/><circle cx="585.92" cy="335.23" r="3.65"/><circle cx="458.68" cy="350.86" r="3.65"/><circle cx="628.33" cy="350.86" r="3.65"/><circle cx="713.16" cy="350.86" r="3.65"/><circle cx="737.39" cy="350.86" r="3.65"/><circle cx="537.45" cy="366.48" r="3.65"/><circle cx="561.68" cy="366.48" r="3.65"/><circle cx="719.22" cy="366.48" r="3.65"/><circle cx="731.33" cy="366.48" r="3.65"/><circle cx="688.92" cy="382.11" r="3.65"/><circle cx="713.16" cy="382.11" r="3.65"/></g>
<g fill="#95C7DF"><circle cx="610.16" cy="85.22" r="3.65"/><circle cx="646.51" cy="85.22" r="3.65"/><circle cx="446.56" cy="100.85" r="3.65"/><circle cx="640.45" cy="100.85" r="3.65"/><circle cx="701.04" cy="100.85" r="3.65"/><circle cx="464.74" cy="116.47" r="3.65"/><circle cx="634.39" cy="116.47" r="3.65"/><circle cx="670.74" cy="116.47" r="3.65"/><circle cx="458.68" cy="163.35" r="3.65"/><circle cx="446.56" cy="225.85" r="3.65"/><circle cx="470.8" cy="288.35" r="3.65"/><circle cx="482.92" cy="382.11" r="3.65"/></g>
<g fill="#74ADD1"><circle cx="670.74" cy="85.22" r="3.65"/><circle cx="543.51" cy="132.1" r="3.65"/><circle cx="488.98" cy="147.72" r="3.65"/><circle cx="470.8" cy="163.35" r="3.65"/><circle cx="476.86" cy="303.98" r="3.65"/><circle cx="507.15" cy="350.86" r="3.65"/><circle cx="476.86" cy="366.48" r="3.65"/><circle cx="743.45" cy="366.48" r="3.65"/></g>
<g fill="#FFF19C"><circle cx="694.98" cy="85.22" r="3.65"/><circle cx="543.51" cy="100.85" r="3.65"/><circle cx="616.21" cy="100.85" r="3.65"/><circle cx="488.98" cy="116.47" r="3.65"/><circle cx="458.68" cy="132.1" r="3.65"/><circle cx="622.27" cy="147.72" r="3.65"/><circle cx="567.74" cy="163.35" r="3.65"/><circle cx="725.28" cy="163.35" r="3.65"/><circle cx="555.62" cy="194.6" r="3.65"/><circle cx="628.33" cy="194.6" r="3.65"/><circle cx="452.62" cy="210.23" r="3.65"/><circle cx="488.98" cy="210.23" r="3.65"/><circle cx="513.21" cy="210.23" r="3.65"/><circle cx="561.68" cy="210.23" r="3.65"/><circle cx="707.1" cy="210.23" r="3.65"/><circle cx="731.33" cy="210.23" r="3.65"/><circle cx="482.92" cy="225.85" r="3.65"/><circle cx="464.74" cy="241.48" r="3.65"/><circle cx="543.51" cy="257.1" r="3.65"/><circle cx="543.51" cy="319.61" r="3.65"/><circle cx="464.74" cy="366.48" r="3.65"/><circle cx="525.33" cy="366.48" r="3.65"/><circle cx="707.1" cy="366.48" r="3.65"/><circle cx="446.56" cy="382.11" r="3.65"/><circle cx="495.04" cy="382.11" r="3.65"/></g>
<g fill="#D8EFF6"><circle cx="719.22" cy="85.22" r="3.65"/><circle cx="664.69" cy="100.85" r="3.65"/><circle cx="646.51" cy="116.47" r="3.65"/><circle cx="719.22" cy="116.47" r="3.65"/><circle cx="725.28" cy="132.1" r="3.65"/><circle cx="634.39" cy="147.72" r="3.65"/><circle cx="482.92" cy="163.35" r="3.65"/><circle cx="519.27" cy="163.35" r="3.65"/><circle cx="446.56" cy="194.6" r="3.65"/><circle cx="458.68" cy="194.6" r="3.65"/><circle cx="513.21" cy="303.98" r="3.65"/><circle cx="482.92" cy="350.86" r="3.65"/><circle cx="567.74" cy="350.86" r="3.65"/></g>
<g fill="#EAF6D8"><circle cx="537.45" cy="116.47" r="3.65"/><circle cx="585.92" cy="147.72" r="3.65"/><circle cx="531.39" cy="163.35" r="3.65"/><circle cx="731.33" cy="178.97" r="3.65"/><circle cx="537.45" cy="272.73" r="3.65"/><circle cx="513.21" cy="335.23" r="3.65"/><circle cx="543.51" cy="382.11" r="3.65"/></g>
<g fill="#F99455"><circle cx="585.92" cy="116.47" r="3.65"/><circle cx="549.57" cy="147.72" r="3.65"/><circle cx="598.04" cy="147.72" r="3.65"/><circle cx="670.74" cy="147.72" r="3.65"/><circle cx="731.33" cy="147.72" r="3.65"/><circle cx="664.69" cy="163.35" r="3.65"/><circle cx="701.04" cy="163.35" r="3.65"/><circle cx="573.8" cy="178.97" r="3.65"/><circle cx="579.86" cy="194.6" r="3.65"/><circle cx="664.69" cy="194.6" r="3.65"/><circle cx="688.92" cy="194.6" r="3.65"/><circle cx="537.45" cy="210.23" r="3.65"/><circle cx="622.27" cy="210.23" r="3.65"/><circle cx="567.74" cy="225.85" r="3.65"/><circle cx="616.21" cy="225.85" r="3.65"/><circle cx="628.33" cy="225.85" r="3.65"/><circle cx="713.16" cy="225.85" r="3.65"/><circle cx="725.28" cy="225.85" r="3.65"/><circle cx="561.68" cy="241.48" r="3.65"/><circle cx="610.16" cy="241.48" r="3.65"/><circle cx="682.86" cy="241.48" r="3.65"/><circle cx="707.1" cy="241.48" r="3.65"/><circle cx="555.62" cy="257.1" r="3.65"/><circle cx="688.92" cy="257.1" r="3.65"/><circle cx="561.68" cy="272.73" r="3.65"/><circle cx="598.04" cy="272.73" r="3.65"/><circle cx="646.51" cy="272.73" r="3.65"/><circle cx="658.63" cy="272.73" r="3.65"/><circle cx="567.74" cy="288.35" r="3.65"/><circle cx="664.69" cy="288.35" r="3.65"/><circle cx="573.8" cy="303.98" r="3.65"/><circle cx="743.45" cy="303.98" r="3.65"/><circle cx="640.45" cy="319.61" r="3.65"/><circle cx="676.8" cy="319.61" r="3.65"/><circle cx="713.16" cy="319.61" r="3.65"/><circle cx="725.28" cy="319.61" r="3.65"/><circle cx="737.39" cy="319.61" r="3.65"/><circle cx="634.39" cy="335.23" r="3.65"/><circle cx="579.86" cy="350.86" r="3.65"/><circle cx="591.98" cy="350.86" r="3.65"/><circle cx="640.45" cy="350.86" r="3.65"/><circle cx="664.69" cy="350.86" r="3.65"/><circle cx="634.39" cy="366.48" r="3.65"/><circle cx="628.33" cy="382.11" r="3.65"/></g>
<g fill="#5C91C2"><circle cx="464.74" cy="147.72" r="3.65"/><circle cx="476.86" cy="241.48" r="3.65"/><circle cx="488.98" cy="335.23" r="3.65"/><circle cx="598.04" cy="366.48" r="3.65"/><circle cx="591.98" cy="382.11" r="3.65"/></g>
<g fill="#FDAE61"><circle cx="743.45" cy="147.72" r="3.65"/><circle cx="676.8" cy="163.35" r="3.65"/><circle cx="688.92" cy="163.35" r="3.65"/><circle cx="598.04" cy="178.97" r="3.65"/><circle cx="610.16" cy="178.97" r="3.65"/><circle cx="694.98" cy="178.97" r="3.65"/><circle cx="567.74" cy="194.6" r="3.65"/><circle cx="591.98" cy="194.6" r="3.65"/><circle cx="676.8" cy="194.6" r="3.65"/><circle cx="658.63" cy="210.23" r="3.65"/><circle cx="670.74" cy="210.23" r="3.65"/><circle cx="694.98" cy="210.23" r="3.65"/><circle cx="579.86" cy="225.85" r="3.65"/><circle cx="731.33" cy="241.48" r="3.65"/><circle cx="743.45" cy="241.48" r="3.65"/><circle cx="737.39" cy="257.1" r="3.65"/><circle cx="525.33" cy="272.73" r="3.65"/><circle cx="549.57" cy="272.73" r="3.65"/><circle cx="719.22" cy="272.73" r="3.65"/><circle cx="731.33" cy="272.73" r="3.65"/><circle cx="543.51" cy="288.35" r="3.65"/><circle cx="555.62" cy="288.35" r="3.65"/><circle cx="640.45" cy="288.35" r="3.65"/><circle cx="676.8" cy="288.35" r="3.65"/><circle cx="585.92" cy="303.98" r="3.65"/><circle cx="658.63" cy="303.98" r="3.65"/><circle cx="591.98" cy="319.61" r="3.65"/><circle cx="622.27" cy="335.23" r="3.65"/><circle cx="670.74" cy="335.23" r="3.65"/><circle cx="682.86" cy="335.23" r="3.65"/><circle cx="676.8" cy="350.86" r="3.65"/><circle cx="610.16" cy="366.48" r="3.65"/><circle cx="646.51" cy="366.48" r="3.65"/><circle cx="470.8" cy="382.11" r="3.65"/><circle cx="567.74" cy="382.11" r="3.65"/></g>
<g fill="#242083"><circle cx="446.56" cy="163.35" r="3.65"/></g>
<g fill="#E64E35"><circle cx="622.27" cy="178.97" r="3.65"/><circle cx="634.39" cy="178.97" r="3.65"/><circle cx="701.04" cy="194.6" r="3.65"/><circle cx="652.57" cy="225.85" r="3.65"/><circle cx="537.45" cy="241.48" r="3.65"/><circle cx="549.57" cy="241.48" r="3.65"/><circle cx="573.8" cy="241.48" r="3.65"/><circle cx="585.92" cy="241.48" r="3.65"/><circle cx="622.27" cy="241.48" r="3.65"/><circle cx="634.39" cy="241.48" r="3.65"/><circle cx="658.63" cy="241.48" r="3.65"/><circle cx="670.74" cy="241.48" r="3.65"/><circle cx="591.98" cy="257.1" r="3.65"/><circle cx="628.33" cy="257.1" r="3.65"/><circle cx="652.57" cy="257.1" r="3.65"/><circle cx="701.04" cy="257.1" r="3.65"/><circle cx="694.98" cy="272.73" r="3.65"/><circle cx="707.1" cy="272.73" r="3.65"/><circle cx="628.33" cy="288.35" r="3.65"/><circle cx="622.27" cy="303.98" r="3.65"/><circle cx="652.57" cy="319.61" r="3.65"/><circle cx="664.69" cy="319.61" r="3.65"/><circle cx="688.92" cy="319.61" r="3.65"/><circle cx="701.04" cy="319.61" r="3.65"/><circle cx="688.92" cy="350.86" r="3.65"/><circle cx="658.63" cy="366.48" r="3.65"/></g>
<g fill="#F46D43"><circle cx="646.51" cy="178.97" r="3.65"/><circle cx="670.74" cy="178.97" r="3.65"/><circle cx="652.57" cy="194.6" r="3.65"/><circle cx="585.92" cy="210.23" r="3.65"/><circle cx="598.04" cy="210.23" r="3.65"/><circle cx="610.16" cy="210.23" r="3.65"/><circle cx="682.86" cy="210.23" r="3.65"/><circle cx="555.62" cy="225.85" r="3.65"/><circle cx="579.86" cy="257.1" r="3.65"/><circle cx="725.28" cy="257.1" r="3.65"/><circle cx="573.8" cy="272.73" r="3.65"/><circle cx="610.16" cy="272.73" r="3.65"/><circle cx="670.74" cy="272.73" r="3.65"/><circle cx="682.86" cy="272.73" r="3.65"/><circle cx="604.1" cy="288.35" r="3.65"/><circle cx="616.21" cy="288.35" r="3.65"/><circle cx="701.04" cy="288.35" r="3.65"/><circle cx="713.16" cy="288.35" r="3.65"/><circle cx="634.39" cy="303.98" r="3.65"/><circle cx="731.33" cy="303.98" r="3.65"/><circle cx="658.63" cy="335.23" r="3.65"/><circle cx="616.21" cy="350.86" r="3.65"/><circle cx="701.04" cy="350.86" r="3.65"/><circle cx="585.92" cy="366.48" r="3.65"/><circle cx="622.27" cy="366.48" r="3.65"/><circle cx="682.86" cy="366.48" r="3.65"/></g>
<g fill="#D73027"><circle cx="646.51" cy="210.23" r="3.65"/><circle cx="591.98" cy="225.85" r="3.65"/><circle cx="640.45" cy="225.85" r="3.65"/><circle cx="676.8" cy="225.85" r="3.65"/><circle cx="598.04" cy="241.48" r="3.65"/><circle cx="604.1" cy="257.1" r="3.65"/><circle cx="640.45" cy="257.1" r="3.65"/><circle cx="676.8" cy="257.1" r="3.65"/><circle cx="713.16" cy="257.1" r="3.65"/><circle cx="634.39" cy="272.73" r="3.65"/><circle cx="579.86" cy="288.35" r="3.65"/><circle cx="591.98" cy="288.35" r="3.65"/><circle cx="688.92" cy="288.35" r="3.65"/><circle cx="707.1" cy="303.98" r="3.65"/><circle cx="598.04" cy="335.23" r="3.65"/><circle cx="652.57" cy="350.86" r="3.65"/></g>
<g fill="#BE1826"><circle cx="664.69" cy="225.85" r="3.65"/><circle cx="646.51" cy="241.48" r="3.65"/><circle cx="664.69" cy="257.1" r="3.65"/><circle cx="585.92" cy="272.73" r="3.65"/><circle cx="652.57" cy="288.35" r="3.65"/><circle cx="610.16" cy="303.98" r="3.65"/><circle cx="682.86" cy="303.98" r="3.65"/><circle cx="694.98" cy="303.98" r="3.65"/><circle cx="604.1" cy="319.61" r="3.65"/><circle cx="610.16" cy="335.23" r="3.65"/><circle cx="646.51" cy="335.23" r="3.65"/></g>
<g fill="#A50026"><circle cx="622.27" cy="272.73" r="3.65"/><circle cx="646.51" cy="303.98" r="3.65"/><circle cx="628.33" cy="319.61" r="3.65"/></g>
<rect x="434.69" y="38.02" width="320.64" height="391.3" fill="none" stroke="#000" stroke-width="1"/>
<path d="M446.56 429.31v6.34M434.69 382.11h-6.34M505.94 429.31v6.34M434.69 322.73h-6.34M565.32 429.31v6.34M434.69 263.35h-6.34M624.7 429.31v6.34M434.69 203.98h-6.34M684.07 429.31v6.34M434.69 144.6h-6.34M743.45 429.31v6.34M434.69 85.22h-6.34M446.56 429.31H743.45M434.69 382.11V85.22" stroke="#000" stroke-width="1" fill="none"/>
<text class="a" x="446.56" y="452.72">0</text>
<text class="a" transform="translate(419.68 382.61) rotate(-90)">0</text>
<text class="a" x="505.94" y="452.72">20</text>
<text class="a" transform="translate(419.68 323.23) rotate(-90)">20</text>
<text class="a" x="565.32" y="452.72">40</text>
<text class="a" transform="translate(419.68 263.85) rotate(-90)">40</text>
<text class="a" x="624.7" y="452.72">60</text>
<text class="a" transform="translate(419.68 204.48) rotate(-90)">60</text>
<text class="a" x="684.07" y="452.72">80</text>
<text class="a" transform="translate(419.68 145.1) rotate(-90)">80</text>
<text class="a" x="743.45" y="452.72">100</text>
<text class="a" transform="translate(419.68 85.72) rotate(-90)">100</text>
<text class="a" x="595.01" y="478.27">X</text>
<text class="a" transform="translate(394.14 234.46) rotate(-90)">Y</text>
<text class="t" x="595.01" y="15.7">gene_14</text>
<text class="t" x="595.01" y="32">(hotspot pattern)</text>
</g>
<g>
<g fill="#F46D43"><circle cx="836.62" cy="85.22" r="3.65"/><circle cx="994.16" cy="116.47" r="3.65"/><circle cx="1042.63" cy="116.47" r="3.65"/><circle cx="1091.1" cy="116.47" r="3.65"/><circle cx="1103.22" cy="116.47" r="3.65"/><circle cx="1115.33" cy="116.47" r="3.65"/><circle cx="854.8" cy="132.1" r="3.65"/><circle cx="866.92" cy="132.1" r="3.65"/><circle cx="915.39" cy="132.1" r="3.65"/><circle cx="1060.8" cy="132.1" r="3.65"/><circle cx="836.62" cy="147.72" r="3.65"/><circle cx="860.86" cy="147.72" r="3.65"/><circle cx="885.09" cy="147.72" r="3.65"/><circle cx="879.04" cy="163.35" r="3.65"/><circle cx="1036.57" cy="194.6" r="3.65"/><circle cx="1072.92" cy="194.6" r="3.65"/><circle cx="872.98" cy="210.23" r="3.65"/><circle cx="897.21" cy="210.23" r="3.65"/><circle cx="909.33" cy="210.23" r="3.65"/><circle cx="921.45" cy="210.23" r="3.65"/><circle cx="957.8" cy="210.23" r="3.65"/><circle cx="994.16" cy="210.23" r="3.65"/><circle cx="1054.74" cy="210.23" r="3.65"/><circle cx="1078.98" cy="210.23" r="3.65"/><circle cx="1115.33" cy="210.23" r="3.65"/><circle cx="854.8" cy="225.85" r="3.65"/><circle cx="939.62" cy="225.85" r="3.65"/><circle cx="1024.45" cy="225.85" r="3.65"/><circle cx="1036.57" cy="225.85" r="3.65"/><circle cx="909.33" cy="241.48" r="3.65"/><circle cx="933.57" cy="241.48" r="3.65"/><circle cx="1042.63" cy="272.73" r="3.65"/><circle cx="1115.33" cy="272.73" r="3.65"/><circle cx="891.15" cy="288.35" r="3.65"/><circle cx="1024.45" cy="288.35" r="3.65"/><circle cx="1121.39" cy="288.35" r="3.65"/><circle cx="982.04" cy="303.98" r="3.65"/><circle cx="1054.74" cy="303.98" r="3.65"/><circle cx="830.56" cy="319.61" r="3.65"/><circle cx="963.86" cy="319.61" r="3.65"/><circle cx="848.74" cy="335.23" r="3.65"/><circle cx="933.57" cy="366.48" r="3.65"/><circle cx="969.92" cy="366.48" r="3.65"/><circle cx="1006.27" cy="366.48" r="3.65"/><circle cx="1018.39" cy="366.48" r="3.65"/><circle cx="1054.74" cy="366.48" r="3.65"/><circle cx="842.68" cy="382.11" r="3.65"/><circle cx="903.27" cy="382.11" r="3.65"/><circle cx="927.51" cy="382.11" r="3.65"/><circle cx="1048.69" cy="382.11" r="3.65"/></g>
<g fill="#FEC778"><circle cx="848.74" cy="85.22" r="3.65"/><circle cx="872.98" cy="85.22" r="3.65"/><circle cx="969.92" cy="85.22" r="3.65"/><circle cx="1048.69" cy="100.85" r="3.65"/><circle cx="1060.8" cy="100.85" r="3.65"/><circle cx="1097.16" cy="100.85" r="3.65"/><circle cx="1109.28" cy="100.85" r="3.65"/><circle cx="885.09" cy="116.47" r="3.65"/><circle cx="848.74" cy="147.72" r="3.65"/><circle cx="909.33" cy="147.72" r="3.65"/><circle cx="1018.39" cy="147.72" r="3.65"/><circle cx="1078.98" cy="147.72" r="3.65"/><circle cx="1091.1" cy="147.72" r="3.65"/><circle cx="1103.22" cy="147.72" r="3.65"/><circle cx="842.68" cy="163.35" r="3.65"/><circle cx="866.92" cy="163.35" r="3.65"/><circle cx="939.62" cy="163.35" r="3.65"/><circle cx="951.74" cy="163.35" r="3.65"/><circle cx="975.98" cy="163.35" r="3.65"/><circle cx="1054.74" cy="178.97" r="3.65"/><circle cx="1127.45" cy="178.97" r="3.65"/><circle cx="939.62" cy="194.6" r="3.65"/><circle cx="951.74" cy="194.6" r="3.65"/><circle cx="969.92" cy="210.23" r="3.65"/><circle cx="951.74" cy="225.85" r="3.65"/><circle cx="994.16" cy="241.48" r="3.65"/><circle cx="854.8" cy="257.1" r="3.65"/><circle cx="1121.39" cy="257.1" r="3.65"/><circle cx="994.16" cy="272.73" r="3.65"/><circle cx="1018.39" cy="272.73" r="3.65"/><circle cx="1030.51" cy="272.73" r="3.65"/><circle cx="1091.1" cy="272.73" r="3.65"/><circle cx="1127.45" cy="272.73" r="3.65"/><circle cx="1072.92" cy="288.35" r="3.65"/><circle cx="1085.04" cy="288.35" r="3.65"/><circle cx="842.68" cy="319.61" r="3.65"/><circle cx="1024.45" cy="319.61" r="3.65"/><circle cx="1048.69" cy="319.61" r="3.65"/><circle cx="909.33" cy="335.23" r="3.65"/><circle cx="1085.04" cy="350.86" r="3.65"/><circle cx="897.21" cy="366.48" r="3.65"/><circle cx="921.45" cy="366.48" r="3.65"/><circle cx="957.8" cy="366.48" r="3.65"/><circle cx="1042.63" cy="366.48" r="3.65"/><circle cx="854.8" cy="382.11" r="3.65"/><circle cx="1012.33" cy="382.11" r="3.65"/><circle cx="1060.8" cy="382.11" r="3.65"/></g>
<g fill="#FEE38C"><circle cx="860.86" cy="85.22" r="3.65"/><circle cx="982.04" cy="85.22" r="3.65"/><circle cx="994.16" cy="85.22" r="3.65"/><circle cx="830.56" cy="100.85" r="3.65"/><circle cx="866.92" cy="100.85" r="3.65"/><circle cx="963.86" cy="100.85" r="3.65"/><circle cx="1024.45" cy="100.85" r="3.65"/><circle cx="1036.57" cy="100.85" r="3.65"/><circle cx="1085.04" cy="100.85" r="3.65"/><circle cx="860.86" cy="116.47" r="3.65"/><circle cx="909.33" cy="116.47" r="3.65"/><circle cx="957.8" cy="116.47" r="3.65"/><circle cx="830.56" cy="132.1" r="3.65"/><circle cx="957.8" cy="147.72" r="3.65"/><circle cx="1066.86" cy="147.72" r="3.65"/><circle cx="1115.33" cy="147.72" r="3.65"/><circle cx="963.86" cy="163.35" r="3.65"/><circle cx="988.1" cy="163.35" r="3.65"/><circle cx="872.98" cy="178.97" r="3.65"/><circle cx="1078.98" cy="178.97" r="3.65"/><circle cx="1091.1" cy="178.97" r="3.65"/><circle cx="1115.33" cy="178.97" r="3.65"/><circle cx="915.39" cy="194.6" r="3.65"/><circle cx="1048.69" cy="194.6" r="3.65"/><circle cx="836.62" cy="210.23" r="3.65"/><circle cx="1103.22" cy="210.23" r="3.65"/><circle cx="915.39" cy="225.85" r="3.65"/><circle cx="866.92" cy="257.1" r="3.65"/><circle cx="891.15" cy="257.1" r="3.65"/><circle cx="903.27" cy="257.1" r="3.65"/><circle cx="915.39" cy="257.1" r="3.65"/><circle cx="1085.04" cy="257.1" r="3.65"/><circle cx="1097.16" cy="257.1" r="3.65"/><circle cx="1109.28" cy="257.1" r="3.65"/><circle cx="982.04" cy="272.73" r="3.65"/><circle cx="1054.74" cy="272.73" r="3.65"/><circle cx="903.27" cy="288.35" r="3.65"/><circle cx="939.62" cy="288.35" r="3.65"/><circle cx="975.98" cy="288.35" r="3.65"/><circle cx="1000.21" cy="319.61" r="3.65"/><circle cx="1097.16" cy="319.61" r="3.65"/><circle cx="836.62" cy="335.23" r="3.65"/><circle cx="860.86" cy="335.23" r="3.65"/><circle cx="945.68" cy="335.23" r="3.65"/><circle cx="957.8" cy="335.23" r="3.65"/><circle cx="982.04" cy="335.23" r="3.65"/><circle cx="994.16" cy="335.23" r="3.65"/><circle cx="1127.45" cy="335.23" r="3.65"/><circle cx="842.68" cy="350.86" r="3.65"/><circle cx="1072.92" cy="350.86" r="3.65"/><circle cx="872.98" cy="366.48" r="3.65"/><circle cx="945.68" cy="366.48" r="3.65"/></g>
<g fill="#FFFDB4"><circle cx="885.09" cy="85.22" r="3.65"/><circle cx="957.8" cy="85.22" r="3.65"/><circle cx="1000.21" cy="100.85" r="3.65"/><circle cx="921.45" cy="116.47" r="3.65"/><circle cx="933.57" cy="116.47" r="3.65"/><circle cx="945.68" cy="116.47" r="3.65"/><circle cx="1012.33" cy="163.35" r="3.65"/><circle cx="1072.92" cy="163.35" r="3.65"/><circle cx="897.21" cy="178.97" r="3.65"/><circle cx="909.33" cy="178.97" r="3.65"/><circle cx="994.16" cy="178.97" r="3.65"/><circle cx="891.15" cy="194.6" r="3.65"/><circle cx="1000.21" cy="257.1" r="3.65"/><circle cx="945.68" cy="272.73" r="3.65"/><circle cx="830.56" cy="288.35" r="3.65"/><circle cx="842.68" cy="288.35" r="3.65"/><circle cx="1072.92" cy="319.61" r="3.65"/><circle cx="921.45" cy="335.23" r="3.65"/><circle cx="969.92" cy="335.23" r="3.65"/><circle cx="830.56" cy="350.86" r="3.65"/><circle cx="1000.21" cy="350.86" r="3.65"/></g>
<g fill="#FDAE61"><circle cx="897.21" cy="85.22" r="3.65"/><circle cx="909.33" cy="85.22" r="3.65"/><circle cx="921.45" cy="85.22" r="3.65"/><circle cx="1072.92" cy="100.85" r="3.65"/><circle cx="842.68" cy="132.1" r="3.65"/><circle cx="903.27" cy="132.1" r="3.65"/><circle cx="951.74" cy="132.1" r="3.65"/><circle cx="963.86" cy="132.1" r="3.65"/><circle cx="1024.45" cy="132.1" r="3.65"/><circle cx="1072.92" cy="132.1" r="3.65"/><circle cx="1085.04" cy="132.1" r="3.65"/><circle cx="945.68" cy="147.72" r="3.65"/><circle cx="1042.63" cy="147.72" r="3.65"/><circle cx="927.51" cy="163.35" r="3.65"/><circle cx="836.62" cy="178.97" r="3.65"/><circle cx="1103.22" cy="178.97" r="3.65"/><circle cx="988.1" cy="194.6" r="3.65"/><circle cx="1000.21" cy="194.6" r="3.65"/><circle cx="1024.45" cy="194.6" r="3.65"/><circle cx="848.74" cy="210.23" r="3.65"/><circle cx="860.86" cy="210.23" r="3.65"/><circle cx="933.57" cy="210.23" r="3.65"/><circle cx="1018.39" cy="210.23" r="3.65"/><circle cx="1030.51" cy="210.23" r="3.65"/><circle cx="927.51" cy="225.85" r="3.65"/><circle cx="963.86" cy="225.85" r="3.65"/><circle cx="988.1" cy="225.85" r="3.65"/><circle cx="1000.21" cy="225.85" r="3.65"/><circle cx="1048.69" cy="225.85" r="3.65"/><circle cx="1109.28" cy="225.85" r="3.65"/><circle cx="957.8" cy="241.48" r="3.65"/><circle cx="969.92" cy="241.48" r="3.65"/><circle cx="1006.27" cy="241.48" r="3.65"/><circle cx="830.56" cy="257.1" r="3.65"/><circle cx="842.68" cy="257.1" r="3.65"/><circle cx="1066.86" cy="272.73" r="3.65"/><circle cx="915.39" cy="288.35" r="3.65"/><circle cx="927.51" cy="288.35" r="3.65"/><circle cx="872.98" cy="303.98" r="3.65"/><circle cx="909.33" cy="303.98" r="3.65"/><circle cx="1103.22" cy="303.98" r="3.65"/><circle cx="975.98" cy="319.61" r="3.65"/><circle cx="988.1" cy="319.61" r="3.65"/><circle cx="1012.33" cy="319.61" r="3.65"/><circle cx="1036.57" cy="319.61" r="3.65"/><circle cx="872.98" cy="335.23" r="3.65"/><circle cx="885.09" cy="335.23" r="3.65"/><circle cx="933.57" cy="335.23" r="3.65"/><circle cx="1060.8" cy="350.86" r="3.65"/><circle cx="1097.16" cy="350.86" r="3.65"/><circle cx="1109.28" cy="350.86" r="3.65"/><circle cx="1121.39" cy="350.86" r="3.65"/><circle cx="982.04" cy="366.48" r="3.65"/><circle cx="994.16" cy="366.48" r="3.65"/><circle cx="1115.33" cy="366.48" r="3.65"/><circle cx="830.56" cy="382.11" r="3.65"/><circle cx="1036.57" cy="382.11" r="3.65"/><circle cx="1097.16" cy="382.11" r="3.65"/></g>
<g fill="#F99455"><circle cx="933.57" cy="85.22" r="3.65"/><circle cx="1121.39" cy="100.85" r="3.65"/><circle cx="982.04" cy="116.47" r="3.65"/><circle cx="1054.74" cy="116.47" r="3.65"/><circle cx="1066.86" cy="116.47" r="3.65"/><circle cx="1012.33" cy="132.1" r="3.65"/><circle cx="1121.39" cy="132.1" r="3.65"/><circle cx="982.04" cy="147.72" r="3.65"/><circle cx="1127.45" cy="147.72" r="3.65"/><circle cx="830.56" cy="163.35" r="3.65"/><circle cx="891.15" cy="163.35" r="3.65"/><circle cx="903.27" cy="163.35" r="3.65"/><circle cx="915.39" cy="163.35" r="3.65"/><circle cx="1012.33" cy="194.6" r="3.65"/><circle cx="1085.04" cy="194.6" r="3.65"/><circle cx="885.09" cy="210.23" r="3.65"/><circle cx="1042.63" cy="210.23" r="3.65"/><circle cx="830.56" cy="225.85" r="3.65"/><circle cx="891.15" cy="225.85" r="3.65"/><circle cx="903.27" cy="225.85" r="3.65"/><circle cx="1012.33" cy="225.85" r="3.65"/><circle cx="1060.8" cy="225.85" r="3.65"/><circle cx="1085.04" cy="225.85" r="3.65"/><circle cx="1097.16" cy="225.85" r="3.65"/><circle cx="860.86" cy="241.48" r="3.65"/><circle cx="897.21" cy="241.48" r="3.65"/><circle cx="1018.39" cy="241.48" r="3.65"/><circle cx="963.86" cy="288.35" r="3.65"/><circle cx="1097.16" cy="288.35" r="3.65"/><circle cx="860.86" cy="303.98" r="3.65"/><circle cx="897.21" cy="303.98" r="3.65"/><circle cx="945.68" cy="303.98" r="3.65"/><circle cx="1042.63" cy="303.98" r="3.65"/><circle cx="1066.86" cy="303.98" r="3.65"/><circle cx="1091.1" cy="303.98" r="3.65"/><circle cx="1127.45" cy="303.98" r="3.65"/><circle cx="927.51" cy="319.61" r="3.65"/><circle cx="939.62" cy="319.61" r="3.65"/><circle cx="897.21" cy="335.23" r="3.65"/><circle cx="1036.57" cy="350.86" r="3.65"/><circle cx="1066.86" cy="366.48" r="3.65"/><circle cx="1078.98" cy="366.48" r="3.65"/><circle cx="975.98" cy="382.11" r="3.65"/><circle cx="1085.04" cy="382.11" r="3.65"/></g>
<g fill="#E2F3E4"><circle cx="945.68" cy="85.22" r="3.65"/><circle cx="988.1" cy="100.85" r="3.65"/><circle cx="830.56" cy="194.6" r="3.65"/><circle cx="879.04" cy="194.6" r="3.65"/><circle cx="903.27" cy="194.6" r="3.65"/><circle cx="848.74" cy="241.48" r="3.65"/><circle cx="982.04" cy="241.48" r="3.65"/><circle cx="1127.45" cy="241.48" r="3.65"/><circle cx="860.86" cy="272.73" r="3.65"/><circle cx="933.57" cy="303.98" r="3.65"/><circle cx="1115.33" cy="303.98" r="3.65"/><circle cx="1060.8" cy="319.61" r="3.65"/><circle cx="1091.1" cy="335.23" r="3.65"/><circle cx="951.74" cy="350.86" r="3.65"/></g>
<g fill="#FFF19C"><circle cx="1006.27" cy="85.22" r="3.65"/><circle cx="1036.57" cy="163.35" r="3.65"/><circle cx="848.74" cy="178.97" r="3.65"/><circle cx="860.86" cy="178.97" r="3.65"/><circle cx="963.86" cy="194.6" r="3.65"/><circle cx="1054.74" cy="241.48" r="3.65"/><circle cx="1066.86" cy="241.48" r="3.65"/><circle cx="1109.28" cy="319.61" r="3.65"/><circle cx="915.39" cy="350.86" r="3.65"/><circle cx="975.98" cy="350.86" r="3.65"/><circle cx="909.33" cy="366.48" r="3.65"/></g>
<g fill="#D8EFF6"><circle cx="1018.39" cy="85.22" r="3.65"/><circle cx="1042.63" cy="85.22" r="3.65"/><circle cx="1066.86" cy="85.22" r="3.65"/><circle cx="969.92" cy="178.97" r="3.65"/><circle cx="982.04" cy="178.97" r="3.65"/><circle cx="842.68" cy="194.6" r="3.65"/><circle cx="879.04" cy="257.1" r="3.65"/><circle cx="1012.33" cy="257.1" r="3.65"/><circle cx="836.62" cy="272.73" r="3.65"/><circle cx="872.98" cy="272.73" r="3.65"/><circle cx="909.33" cy="272.73" r="3.65"/><circle cx="933.57" cy="272.73" r="3.65"/><circle cx="1121.39" cy="319.61" r="3.65"/><circle cx="1078.98" cy="335.23" r="3.65"/><circle cx="866.92" cy="350.86" r="3.65"/><circle cx="891.15" cy="350.86" r="3.65"/><circle cx="963.86" cy="350.86" r="3.65"/><circle cx="848.74" cy="366.48" r="3.65"/><circle cx="885.09" cy="366.48" r="3.65"/></g>
<g fill="#C8E7F1"><circle cx="1030.51" cy="85.22" r="3.65"/><circle cx="927.51" cy="100.85" r="3.65"/><circle cx="975.98" cy="100.85" r="3.65"/><circle cx="848.74" cy="116.47" r="3.65"/><circle cx="1006.27" cy="116.47" r="3.65"/><circle cx="1024.45" cy="163.35" r="3.65"/><circle cx="933.57" cy="178.97" r="3.65"/><circle cx="1030.51" cy="178.97" r="3.65"/><circle cx="854.8" cy="194.6" r="3.65"/><circle cx="963.86" cy="257.1" r="3.65"/><circle cx="988.1" cy="257.1" r="3.65"/><circle cx="1048.69" cy="257.1" r="3.65"/><circle cx="1042.63" cy="335.23" r="3.65"/><circle cx="860.86" cy="366.48" r="3.65"/></g>
<g fill="#74ADD1"><circle cx="1054.74" cy="85.22" r="3.65"/><circle cx="1078.98" cy="85.22" r="3.65"/><circle cx="1127.45" cy="85.22" r="3.65"/><circle cx="915.39" cy="100.85" r="3.65"/><circle cx="1000.21" cy="163.35" r="3.65"/><circle cx="1048.69" cy="163.35" r="3.65"/><circle cx="921.45" cy="178.97" r="3.65"/><circle cx="1006.27" cy="178.97" r="3.65"/><circle cx="866.92" cy="194.6" r="3.65"/><circle cx="927.51" cy="194.6" r="3.65"/><circle cx="1030.51" cy="241.48" r="3.65"/><circle cx="1024.45" cy="257.1" r="3.65"/><circle cx="1072.92" cy="257.1" r="3.65"/><circle cx="848.74" cy="272.73" r="3.65"/><circle cx="1030.51" cy="335.23" r="3.65"/><circle cx="1024.45" cy="350.86" r="3.65"/></g>
<g fill="#95C7DF"><circle cx="1091.1" cy="85.22" r="3.65"/><circle cx="1103.22" cy="85.22" r="3.65"/><circle cx="891.15" cy="100.85" r="3.65"/><circle cx="872.98" cy="116.47" r="3.65"/><circle cx="945.68" cy="178.97" r="3.65"/><circle cx="1078.98" cy="241.48" r="3.65"/><circle cx="1115.33" cy="241.48" r="3.65"/><circle cx="975.98" cy="257.1" r="3.65"/><circle cx="866.92" cy="288.35" r="3.65"/><circle cx="903.27" cy="350.86" r="3.65"/></g>
<g fill="#EFF9C6"><circle cx="1115.33" cy="85.22" r="3.65"/><circle cx="842.68" cy="100.85" r="3.65"/><circle cx="1012.33" cy="100.85" r="3.65"/><circle cx="836.62" cy="116.47" r="3.65"/><circle cx="969.92" cy="116.47" r="3.65"/><circle cx="885.09" cy="178.97" r="3.65"/><circle cx="1018.39" cy="178.97" r="3.65"/><circle cx="1121.39" cy="225.85" r="3.65"/><circle cx="1042.63" cy="241.48" r="3.65"/><circle cx="927.51" cy="257.1" r="3.65"/><circle cx="939.62" cy="257.1" r="3.65"/><circle cx="969.92" cy="272.73" r="3.65"/><circle cx="854.8" cy="288.35" r="3.65"/><circle cx="1085.04" cy="319.61" r="3.65"/><circle cx="1006.27" cy="335.23" r="3.65"/><circle cx="879.04" cy="350.86" r="3.65"/><circle cx="939.62" cy="350.86" r="3.65"/><circle cx="988.1" cy="350.86" r="3.65"/><circle cx="1012.33" cy="350.86" r="3.65"/><circle cx="836.62" cy="366.48" r="3.65"/></g>
<g fill="#ABD9E9"><circle cx="854.8" cy="100.85" r="3.65"/><circle cx="879.04" cy="100.85" r="3.65"/><circle cx="939.62" cy="100.85" r="3.65"/><circle cx="951.74" cy="100.85" r="3.65"/><circle cx="1085.04" cy="163.35" r="3.65"/><circle cx="1109.28" cy="163.35" r="3.65"/><circle cx="1121.39" cy="163.35" r="3.65"/><circle cx="975.98" cy="194.6" r="3.65"/><circle cx="1103.22" cy="241.48" r="3.65"/><circle cx="885.09" cy="272.73" r="3.65"/><circle cx="921.45" cy="272.73" r="3.65"/><circle cx="879.04" cy="288.35" r="3.65"/><circle cx="1018.39" cy="335.23" r="3.65"/><circle cx="1054.74" cy="335.23" r="3.65"/><circle cx="1103.22" cy="335.23" r="3.65"/><circle cx="854.8" cy="350.86" r="3.65"/><circle cx="1048.69" cy="350.86" r="3.65"/></g>
<g fill="#5C91C2"><circle cx="903.27" cy="100.85" r="3.65"/><circle cx="1097.16" cy="163.35" r="3.65"/><circle cx="1066.86" cy="335.23" r="3.65"/></g>
<g fill="#EAF6D8"><circle cx="897.21" cy="116.47" r="3.65"/><circle cx="1042.63" cy="178.97" r="3.65"/><circle cx="1060.8" cy="257.1" r="3.65"/></g>
<g fill="#E64E35"><circle cx="1018.39" cy="116.47" r="3.65"/><circle cx="1030.51" cy="116.47" r="3.65"/><circle cx="1078.98" cy="116.47" r="3.65"/><circle cx="1127.45" cy="116.47" r="3.65"/><circle cx="891.15" cy="132.1" r="3.65"/><circle cx="975.98" cy="132.1" r="3.65"/><circle cx="988.1" cy="132.1" r="3.65"/><circle cx="1036.57" cy="132.1" r="3.65"/><circle cx="1109.28" cy="132.1" r="3.65"/><circle cx="933.57" cy="147.72" r="3.65"/><circle cx="969.92" cy="147.72" r="3.65"/><circle cx="1030.51" cy="147.72" r="3.65"/><circle cx="1054.74" cy="147.72" r="3.65"/><circle cx="1060.8" cy="194.6" r="3.65"/><circle cx="1097.16" cy="194.6" r="3.65"/><circle cx="1109.28" cy="194.6" r="3.65"/><circle cx="1121.39" cy="194.6" r="3.65"/><circle cx="1127.45" cy="210.23" r="3.65"/><circle cx="879.04" cy="225.85" r="3.65"/><circle cx="1072.92" cy="225.85" r="3.65"/><circle cx="872.98" cy="241.48" r="3.65"/><circle cx="945.68" cy="241.48" r="3.65"/><circle cx="1078.98" cy="272.73" r="3.65"/><circle cx="951.74" cy="288.35" r="3.65"/><circle cx="988.1" cy="288.35" r="3.65"/><circle cx="1000.21" cy="288.35" r="3.65"/><circle cx="1060.8" cy="288.35" r="3.65"/><circle cx="836.62" cy="303.98" r="3.65"/><circle cx="957.8" cy="303.98" r="3.65"/><circle cx="969.92" cy="303.98" r="3.65"/><circle cx="994.16" cy="303.98" r="3.65"/><circle cx="1006.27" cy="303.98" r="3.65"/><circle cx="1078.98" cy="303.98" r="3.65"/><circle cx="879.04" cy="319.61" r="3.65"/><circle cx="915.39" cy="319.61" r="3.65"/><circle cx="1030.51" cy="366.48" r="3.65"/><circle cx="879.04" cy="382.11" r="3.65"/><circle cx="891.15" cy="382.11" r="3.65"/><circle cx="915.39" cy="382.11" r="3.65"/><circle cx="1000.21" cy="382.11" r="3.65"/><circle cx="1024.45" cy="382.11" r="3.65"/><circle cx="1109.28" cy="382.11" r="3.65"/></g>
<g fill="#A50026"><circle cx="879.04" cy="132.1" r="3.65"/><circle cx="939.62" cy="132.1" r="3.65"/><circle cx="1012.33" cy="288.35" r="3.65"/><circle cx="1109.28" cy="288.35" r="3.65"/><circle cx="1091.1" cy="366.48" r="3.65"/></g>
<g fill="#D73027"><circle cx="927.51" cy="132.1" r="3.65"/><circle cx="1048.69" cy="132.1" r="3.65"/><circle cx="1097.16" cy="132.1" r="3.65"/><circle cx="872.98" cy="147.72" r="3.65"/><circle cx="897.21" cy="147.72" r="3.65"/><circle cx="921.45" cy="147.72" r="3.65"/><circle cx="994.16" cy="147.72" r="3.65"/><circle cx="854.8" cy="163.35" r="3.65"/><circle cx="945.68" cy="210.23" r="3.65"/><circle cx="982.04" cy="210.23" r="3.65"/><circle cx="1006.27" cy="210.23" r="3.65"/><circle cx="1066.86" cy="210.23" r="3.65"/><circle cx="1091.1" cy="210.23" r="3.65"/><circle cx="836.62" cy="241.48" r="3.65"/><circle cx="885.09" cy="241.48" r="3.65"/><circle cx="1103.22" cy="272.73" r="3.65"/><circle cx="1036.57" cy="288.35" r="3.65"/><circle cx="1048.69" cy="288.35" r="3.65"/><circle cx="848.74" cy="303.98" r="3.65"/><circle cx="885.09" cy="303.98" r="3.65"/><circle cx="921.45" cy="303.98" r="3.65"/><circle cx="1030.51" cy="303.98" r="3.65"/><circle cx="854.8" cy="319.61" r="3.65"/><circle cx="891.15" cy="319.61" r="3.65"/><circle cx="903.27" cy="319.61" r="3.65"/><circle cx="951.74" cy="319.61" r="3.65"/><circle cx="1103.22" cy="366.48" r="3.65"/><circle cx="866.92" cy="382.11" r="3.65"/><circle cx="939.62" cy="382.11" r="3.65"/><circle cx="988.1" cy="382.11" r="3.65"/><circle cx="1072.92" cy="382.11" r="3.65"/><circle cx="1121.39" cy="382.11" r="3.65"/></g>
<g fill="#BE1826"><circle cx="1000.21" cy="132.1" r="3.65"/><circle cx="1006.27" cy="147.72" r="3.65"/><circle cx="842.68" cy="225.85" r="3.65"/><circle cx="866.92" cy="225.85" r="3.65"/><circle cx="975.98" cy="225.85" r="3.65"/><circle cx="921.45" cy="241.48" r="3.65"/><circle cx="1018.39" cy="303.98" r="3.65"/><circle cx="866.92" cy="319.61" r="3.65"/><circle cx="1127.45" cy="366.48" r="3.65"/><circle cx="951.74" cy="382.11" r="3.65"/><circle cx="963.86" cy="382.11" r="3.65"/></g>
<g fill="#4575B4"><circle cx="1060.8" cy="163.35" r="3.65"/><circle cx="1091.1" cy="241.48" r="3.65"/><circle cx="951.74" cy="257.1" r="3.65"/><circle cx="957.8" cy="272.73" r="3.65"/><circle cx="1006.27" cy="272.73" r="3.65"/><circle cx="1115.33" cy="335.23" r="3.65"/><circle cx="927.51" cy="350.86" r="3.65"/></g>
<g fill="#3B56A4"><circle cx="957.8" cy="178.97" r="3.65"/></g>
<g fill="#242083"><circle cx="1066.86" cy="178.97" r="3.65"/><circle cx="1036.57" cy="257.1" r="3.65"/><circle cx="897.21" cy="272.73" r="3.65"/></g>
<rect x="818.69" y="38.02" width="320.64" height="391.3" fill="none" stroke="#000" stroke-width="1"/>
<path d="M830.56 429.31v6.34M818.69 382.11h-6.34M889.94 429.31v6.34M818.69 322.73h-6.34M949.32 429.31v6.34M818.69 263.35h-6.34M1008.7 429.31v6.34M818.69 203.98h-6.34M1068.07 429.31v6.34M818.69 144.6h-6.34M1127.45 429.31v6.34M818.69 85.22h-6.34M830.56 429.31H1127.45M818.69 382.11V85.22" stroke="#000" stroke-width="1" fill="none"/>
<text class="a" x="830.56" y="452.72">0</text>
<text class="a" transform="translate(803.68 382.61) rotate(-90)">0</text>
<text class="a" x="889.94" y="452.72">20</text>
<text class="a" transform="translate(803.68 323.23) rotate(-90)">20</text>
<text class="a" x="949.32" y="452.72">40</text>
<text class="a" transform="translate(803.68 263.85) rotate(-90)">40</text>
<text class="a" x="1008.7" y="452.72">60</text>
<text class="a" transform="translate(803.68 204.48) rotate(-90)">60</text>
<text class="a" x="1068.07" y="452.72">80</text>
<text class="a" transform="translate(803.68 145.1) rotate(-90)">80</text>
<text class="a" x="1127.45" y="452.72">100</text>
<text class="a" transform="translate(803.68 85.72) rotate(-90)">100</text>
<text class="a" x="979.01" y="478.27">X</text>
<text class="a" transform="translate(778.14 234.46) rotate(-90)">Y</text>
<text class="t" x="979.01" y="15.7">gene_27</text>
<text class="t" x="979.01" y="32">(periodic pattern)</text>
</g>
<g>
<g fill="#FFF19C"><circle cx="68.62" cy="565.22" r="3.65"/><circle cx="335.22" cy="565.22" r="3.65"/><circle cx="347.33" cy="565.22" r="3.65"/><circle cx="62.56" cy="580.85" r="3.65"/><circle cx="135.27" cy="580.85" r="3.65"/><circle cx="147.39" cy="580.85" r="3.65"/><circle cx="232.21" cy="580.85" r="3.65"/><circle cx="129.21" cy="596.47" r="3.65"/><circle cx="304.92" cy="612.1" r="3.65"/><circle cx="353.39" cy="612.1" r="3.65"/><circle cx="68.62" cy="627.72" r="3.65"/><circle cx="274.63" cy="627.72" r="3.65"/><circle cx="298.86" cy="627.72" r="3.65"/><circle cx="335.22" cy="627.72" r="3.65"/><circle cx="135.27" cy="643.35" r="3.65"/><circle cx="147.39" cy="643.35" r="3.65"/><circle cx="195.86" cy="643.35" r="3.65"/><circle cx="341.28" cy="643.35" r="3.65"/><circle cx="68.62" cy="658.97" r="3.65"/><circle cx="104.98" cy="658.97" r="3.65"/><circle cx="129.21" cy="658.97" r="3.65"/><circle cx="177.68" cy="658.97" r="3.65"/><circle cx="147.39" cy="674.6" r="3.65"/><circle cx="195.86" cy="674.6" r="3.65"/><circle cx="92.86" cy="690.23" r="3.65"/><circle cx="177.68" cy="690.23" r="3.65"/><circle cx="262.51" cy="690.23" r="3.65"/><circle cx="135.27" cy="705.85" r="3.65"/><circle cx="195.86" cy="705.85" r="3.65"/><circle cx="329.16" cy="705.85" r="3.65"/><circle cx="274.63" cy="752.73" r="3.65"/><circle cx="183.74" cy="768.35" r="3.65"/><circle cx="177.68" cy="783.98" r="3.65"/><circle cx="238.27" cy="783.98" r="3.65"/><circle cx="250.39" cy="783.98" r="3.65"/><circle cx="353.39" cy="799.61" r="3.65"/><circle cx="153.45" cy="815.23" r="3.65"/><circle cx="201.92" cy="815.23" r="3.65"/><circle cx="226.16" cy="815.23" r="3.65"/><circle cx="353.39" cy="830.86" r="3.65"/><circle cx="117.09" cy="846.48" r="3.65"/><circle cx="298.86" cy="846.48" r="3.65"/><circle cx="359.45" cy="846.48" r="3.65"/><circle cx="207.98" cy="862.11" r="3.65"/><circle cx="256.45" cy="862.11" r="3.65"/></g>
<g fill="#FFFDB4"><circle cx="80.74" cy="565.22" r="3.65"/><circle cx="195.86" cy="580.85" r="3.65"/><circle cx="256.45" cy="580.85" r="3.65"/><circle cx="177.68" cy="596.47" r="3.65"/><circle cx="171.62" cy="612.1" r="3.65"/><circle cx="220.1" cy="612.1" r="3.65"/><circle cx="292.8" cy="612.1" r="3.65"/><circle cx="177.68" cy="627.72" r="3.65"/><circle cx="214.04" cy="627.72" r="3.65"/><circle cx="207.98" cy="643.35" r="3.65"/><circle cx="329.16" cy="643.35" r="3.65"/><circle cx="201.92" cy="658.97" r="3.65"/><circle cx="335.22" cy="658.97" r="3.65"/><circle cx="117.09" cy="690.23" r="3.65"/><circle cx="165.57" cy="690.23" r="3.65"/><circle cx="310.98" cy="690.23" r="3.65"/><circle cx="123.15" cy="705.85" r="3.65"/><circle cx="304.92" cy="705.85" r="3.65"/><circle cx="317.04" cy="705.85" r="3.65"/><circle cx="298.86" cy="721.48" r="3.65"/><circle cx="335.22" cy="721.48" r="3.65"/><circle cx="74.68" cy="737.1" r="3.65"/><circle cx="135.27" cy="737.1" r="3.65"/><circle cx="153.45" cy="752.73" r="3.65"/><circle cx="177.68" cy="752.73" r="3.65"/><circle cx="323.1" cy="752.73" r="3.65"/><circle cx="359.45" cy="752.73" r="3.65"/><circle cx="195.86" cy="768.35" r="3.65"/><circle cx="207.98" cy="768.35" r="3.65"/><circle cx="274.63" cy="783.98" r="3.65"/><circle cx="286.74" cy="783.98" r="3.65"/><circle cx="183.74" cy="799.61" r="3.65"/><circle cx="195.86" cy="799.61" r="3.65"/><circle cx="292.8" cy="799.61" r="3.65"/><circle cx="177.68" cy="815.23" r="3.65"/><circle cx="268.57" cy="830.86" r="3.65"/><circle cx="329.16" cy="830.86" r="3.65"/><circle cx="341.28" cy="830.86" r="3.65"/><circle cx="165.57" cy="846.48" r="3.65"/><circle cx="62.56" cy="862.11" r="3.65"/><circle cx="111.04" cy="862.11" r="3.65"/><circle cx="195.86" cy="862.11" r="3.65"/><circle cx="220.1" cy="862.11" r="3.65"/><circle cx="268.57" cy="862.11" r="3.65"/></g>
<g fill="#FEC778"><circle cx="92.86" cy="565.22" r="3.65"/><circle cx="129.21" cy="565.22" r="3.65"/><circle cx="86.8" cy="580.85" r="3.65"/><circle cx="68.62" cy="596.47" r="3.65"/><circle cx="262.51" cy="596.47" r="3.65"/><circle cx="286.74" cy="596.47" r="3.65"/><circle cx="86.8" cy="612.1" r="3.65"/><circle cx="123.15" cy="612.1" r="3.65"/><circle cx="135.27" cy="612.1" r="3.65"/><circle cx="147.39" cy="612.1" r="3.65"/><circle cx="232.21" cy="612.1" r="3.65"/><circle cx="256.45" cy="612.1" r="3.65"/><circle cx="256.45" cy="643.35" r="3.65"/><circle cx="250.39" cy="658.97" r="3.65"/><circle cx="347.33" cy="658.97" r="3.65"/><circle cx="359.45" cy="658.97" r="3.65"/><circle cx="86.8" cy="674.6" r="3.65"/><circle cx="207.98" cy="674.6" r="3.65"/><circle cx="317.04" cy="674.6" r="3.65"/><circle cx="201.92" cy="690.23" r="3.65"/><circle cx="159.51" cy="705.85" r="3.65"/><circle cx="353.39" cy="705.85" r="3.65"/><circle cx="92.86" cy="721.48" r="3.65"/><circle cx="214.04" cy="721.48" r="3.65"/><circle cx="292.8" cy="737.1" r="3.65"/><circle cx="165.57" cy="752.73" r="3.65"/><circle cx="220.1" cy="768.35" r="3.65"/><circle cx="232.21" cy="768.35" r="3.65"/><circle cx="280.69" cy="768.35" r="3.65"/><circle cx="329.16" cy="768.35" r="3.65"/><circle cx="165.57" cy="783.98" r="3.65"/><circle cx="256.45" cy="799.61" r="3.65"/><circle cx="68.62" cy="815.23" r="3.65"/><circle cx="165.57" cy="815.23" r="3.65"/><circle cx="238.27" cy="815.23" r="3.65"/><circle cx="123.15" cy="830.86" r="3.65"/><circle cx="135.27" cy="830.86" r="3.65"/><circle cx="195.86" cy="830.86" r="3.65"/><circle cx="68.62" cy="846.48" r="3.65"/><circle cx="153.45" cy="846.48" r="3.65"/><circle cx="323.1" cy="846.48" r="3.65"/><circle cx="347.33" cy="846.48" r="3.65"/><circle cx="171.62" cy="862.11" r="3.65"/><circle cx="353.39" cy="862.11" r="3.65"/></g>
<g fill="#C8E7F1"><circle cx="104.98" cy="565.22" r="3.65"/><circle cx="117.09" cy="565.22" r="3.65"/><circle cx="214.04" cy="565.22" r="3.65"/><circle cx="238.27" cy="596.47" r="3.65"/><circle cx="98.92" cy="612.1" r="3.65"/><circle cx="329.16" cy="612.1" r="3.65"/><circle cx="201.92" cy="627.72" r="3.65"/><circle cx="220.1" cy="643.35" r="3.65"/><circle cx="304.92" cy="643.35" r="3.65"/><circle cx="165.57" cy="658.97" r="3.65"/><circle cx="183.74" cy="674.6" r="3.65"/><circle cx="244.33" cy="674.6" r="3.65"/><circle cx="359.45" cy="690.23" r="3.65"/><circle cx="280.69" cy="705.85" r="3.65"/><circle cx="347.33" cy="721.48" r="3.65"/><circle cx="159.51" cy="737.1" r="3.65"/><circle cx="183.74" cy="737.1" r="3.65"/><circle cx="280.69" cy="737.1" r="3.65"/><circle cx="317.04" cy="768.35" r="3.65"/><circle cx="214.04" cy="783.98" r="3.65"/><circle cx="244.33" cy="799.61" r="3.65"/><circle cx="232.21" cy="830.86" r="3.65"/><circle cx="98.92" cy="862.11" r="3.65"/><circle cx="123.15" cy="862.11" r="3.65"/></g>
<g fill="#FEE38C"><circle cx="141.33" cy="565.22" r="3.65"/><circle cx="177.68" cy="565.22" r="3.65"/><circle cx="226.16" cy="565.22" r="3.65"/><circle cx="238.27" cy="565.22" r="3.65"/><circle cx="359.45" cy="565.22" r="3.65"/><circle cx="98.92" cy="580.85" r="3.65"/><circle cx="111.04" cy="580.85" r="3.65"/><circle cx="159.51" cy="580.85" r="3.65"/><circle cx="183.74" cy="580.85" r="3.65"/><circle cx="92.86" cy="596.47" r="3.65"/><circle cx="104.98" cy="596.47" r="3.65"/><circle cx="141.33" cy="596.47" r="3.65"/><circle cx="201.92" cy="596.47" r="3.65"/><circle cx="250.39" cy="596.47" r="3.65"/><circle cx="335.22" cy="596.47" r="3.65"/><circle cx="74.68" cy="612.1" r="3.65"/><circle cx="111.04" cy="612.1" r="3.65"/><circle cx="183.74" cy="612.1" r="3.65"/><circle cx="280.69" cy="612.1" r="3.65"/><circle cx="317.04" cy="612.1" r="3.65"/><circle cx="141.33" cy="627.72" r="3.65"/><circle cx="238.27" cy="627.72" r="3.65"/><circle cx="250.39" cy="627.72" r="3.65"/><circle cx="286.74" cy="627.72" r="3.65"/><circle cx="244.33" cy="643.35" r="3.65"/><circle cx="292.8" cy="643.35" r="3.65"/><circle cx="153.45" cy="658.97" r="3.65"/><circle cx="189.8" cy="658.97" r="3.65"/><circle cx="226.16" cy="658.97" r="3.65"/><circle cx="286.74" cy="658.97" r="3.65"/><circle cx="111.04" cy="674.6" r="3.65"/><circle cx="135.27" cy="674.6" r="3.65"/><circle cx="232.21" cy="674.6" r="3.65"/><circle cx="268.57" cy="674.6" r="3.65"/><circle cx="129.21" cy="690.23" r="3.65"/><circle cx="141.33" cy="690.23" r="3.65"/><circle cx="274.63" cy="690.23" r="3.65"/><circle cx="286.74" cy="690.23" r="3.65"/><circle cx="335.22" cy="690.23" r="3.65"/><circle cx="74.68" cy="705.85" r="3.65"/><circle cx="86.8" cy="705.85" r="3.65"/><circle cx="111.04" cy="705.85" r="3.65"/><circle cx="147.39" cy="705.85" r="3.65"/><circle cx="171.62" cy="705.85" r="3.65"/><circle cx="292.8" cy="705.85" r="3.65"/><circle cx="341.28" cy="705.85" r="3.65"/><circle cx="68.62" cy="721.48" r="3.65"/><circle cx="117.09" cy="721.48" r="3.65"/><circle cx="129.21" cy="721.48" r="3.65"/><circle cx="141.33" cy="721.48" r="3.65"/><circle cx="286.74" cy="721.48" r="3.65"/><circle cx="310.98" cy="721.48" r="3.65"/><circle cx="323.1" cy="721.48" r="3.65"/><circle cx="86.8" cy="737.1" r="3.65"/><circle cx="195.86" cy="737.1" r="3.65"/><circle cx="335.22" cy="752.73" r="3.65"/><circle cx="159.51" cy="768.35" r="3.65"/><circle cx="292.8" cy="768.35" r="3.65"/><circle cx="304.92" cy="768.35" r="3.65"/><circle cx="68.62" cy="783.98" r="3.65"/><circle cx="201.92" cy="783.98" r="3.65"/><circle cx="335.22" cy="783.98" r="3.65"/><circle cx="62.56" cy="799.61" r="3.65"/><circle cx="159.51" cy="799.61" r="3.65"/><circle cx="207.98" cy="799.61" r="3.65"/><circle cx="220.1" cy="799.61" r="3.65"/><circle cx="268.57" cy="799.61" r="3.65"/><circle cx="280.69" cy="799.61" r="3.65"/><circle cx="341.28" cy="799.61" r="3.65"/><circle cx="286.74" cy="815.23" r="3.65"/><circle cx="323.1" cy="815.23" r="3.65"/><circle cx="335.22" cy="815.23" r="3.65"/><circle cx="86.8" cy="830.86" r="3.65"/><circle cx="244.33" cy="830.86" r="3.65"/><circle cx="292.8" cy="830.86" r="3.65"/><circle cx="317.04" cy="830.86" r="3.65"/><circle cx="80.74" cy="846.48" r="3.65"/><circle cx="92.86" cy="846.48" r="3.65"/><circle cx="129.21" cy="846.48" r="3.65"/><circle cx="189.8" cy="846.48" r="3.65"/><circle cx="214.04" cy="846.48" r="3.65"/><circle cx="238.27" cy="846.48" r="3.65"/><circle cx="262.51" cy="846.48" r="3.65"/><circle cx="274.63" cy="846.48" r="3.65"/><circle cx="286.74" cy="846.48" r="3.65"/><circle cx="310.98" cy="846.48" r="3.65"/><circle cx="135.27" cy="862.11" r="3.65"/><circle cx="304.92" cy="862.11" r="3.65"/><circle cx="341.28" cy="862.11" r="3.65"/></g>
<g fill="#FDAE61"><circle cx="153.45" cy="565.22" r="3.65"/><circle cx="274.63" cy="565.22" r="3.65"/><circle cx="280.69" cy="580.85" r="3.65"/><circle cx="117.09" cy="596.47" r="3.65"/><circle cx="274.63" cy="596.47" r="3.65"/><circle cx="298.86" cy="596.47" r="3.65"/><circle cx="92.86" cy="627.72" r="3.65"/><circle cx="153.45" cy="627.72" r="3.65"/><circle cx="177.68" cy="721.48" r="3.65"/><circle cx="98.92" cy="737.1" r="3.65"/><circle cx="244.33" cy="737.1" r="3.65"/><circle cx="189.8" cy="752.73" r="3.65"/><circle cx="74.68" cy="768.35" r="3.65"/><circle cx="80.74" cy="783.98" r="3.65"/><circle cx="226.16" cy="783.98" r="3.65"/><circle cx="86.8" cy="799.61" r="3.65"/><circle cx="98.92" cy="799.61" r="3.65"/><circle cx="92.86" cy="815.23" r="3.65"/><circle cx="214.04" cy="815.23" r="3.65"/><circle cx="304.92" cy="830.86" r="3.65"/><circle cx="329.16" cy="862.11" r="3.65"/></g>
<g fill="#ABD9E9"><circle cx="165.57" cy="565.22" r="3.65"/><circle cx="304.92" cy="580.85" r="3.65"/><circle cx="189.8" cy="627.72" r="3.65"/><circle cx="262.51" cy="627.72" r="3.65"/><circle cx="353.39" cy="643.35" r="3.65"/><circle cx="92.86" cy="658.97" r="3.65"/><circle cx="214.04" cy="658.97" r="3.65"/><circle cx="323.1" cy="690.23" r="3.65"/><circle cx="98.92" cy="705.85" r="3.65"/><circle cx="147.39" cy="737.1" r="3.65"/><circle cx="286.74" cy="752.73" r="3.65"/><circle cx="256.45" cy="768.35" r="3.65"/><circle cx="183.74" cy="830.86" r="3.65"/><circle cx="220.1" cy="830.86" r="3.65"/><circle cx="280.69" cy="830.86" r="3.65"/><circle cx="177.68" cy="846.48" r="3.65"/><circle cx="335.22" cy="846.48" r="3.65"/><circle cx="159.51" cy="862.11" r="3.65"/><circle cx="317.04" cy="862.11" r="3.65"/></g>
<g fill="#E2F3E4"><circle cx="189.8" cy="565.22" r="3.65"/><circle cx="298.86" cy="565.22" r="3.65"/><circle cx="341.28" cy="580.85" r="3.65"/><circle cx="359.45" cy="596.47" r="3.65"/><circle cx="62.56" cy="612.1" r="3.65"/><circle cx="244.33" cy="612.1" r="3.65"/><circle cx="238.27" cy="658.97" r="3.65"/><circle cx="74.68" cy="674.6" r="3.65"/><circle cx="98.92" cy="674.6" r="3.65"/><circle cx="153.45" cy="690.23" r="3.65"/><circle cx="298.86" cy="690.23" r="3.65"/><circle cx="183.74" cy="705.85" r="3.65"/><circle cx="304.92" cy="737.1" r="3.65"/><circle cx="298.86" cy="752.73" r="3.65"/><circle cx="347.33" cy="752.73" r="3.65"/><circle cx="341.28" cy="768.35" r="3.65"/><circle cx="171.62" cy="799.61" r="3.65"/><circle cx="329.16" cy="799.61" r="3.65"/><circle cx="62.56" cy="830.86" r="3.65"/><circle cx="74.68" cy="830.86" r="3.65"/><circle cx="207.98" cy="830.86" r="3.65"/><circle cx="74.68" cy="862.11" r="3.65"/><circle cx="280.69" cy="862.11" r="3.65"/></g>
<g fill="#EFF9C6"><circle cx="201.92" cy="565.22" r="3.65"/><circle cx="250.39" cy="565.22" r="3.65"/><circle cx="262.51" cy="565.22" r="3.65"/><circle cx="74.68" cy="580.85" r="3.65"/><circle cx="123.15" cy="580.85" r="3.65"/><circle cx="171.62" cy="580.85" r="3.65"/><circle cx="207.98" cy="580.85" r="3.65"/><circle cx="220.1" cy="580.85" r="3.65"/><circle cx="268.57" cy="580.85" r="3.65"/><circle cx="353.39" cy="580.85" r="3.65"/><circle cx="165.57" cy="596.47" r="3.65"/><circle cx="189.8" cy="596.47" r="3.65"/><circle cx="214.04" cy="596.47" r="3.65"/><circle cx="226.16" cy="596.47" r="3.65"/><circle cx="347.33" cy="596.47" r="3.65"/><circle cx="268.57" cy="612.1" r="3.65"/><circle cx="341.28" cy="612.1" r="3.65"/><circle cx="80.74" cy="627.72" r="3.65"/><circle cx="104.98" cy="627.72" r="3.65"/><circle cx="117.09" cy="627.72" r="3.65"/><circle cx="226.16" cy="627.72" r="3.65"/><circle cx="347.33" cy="627.72" r="3.65"/><circle cx="74.68" cy="643.35" r="3.65"/><circle cx="98.92" cy="643.35" r="3.65"/><circle cx="123.15" cy="643.35" r="3.65"/><circle cx="268.57" cy="643.35" r="3.65"/><circle cx="317.04" cy="643.35" r="3.65"/><circle cx="117.09" cy="658.97" r="3.65"/><circle cx="274.63" cy="658.97" r="3.65"/><circle cx="310.98" cy="658.97" r="3.65"/><circle cx="292.8" cy="674.6" r="3.65"/><circle cx="329.16" cy="674.6" r="3.65"/><circle cx="341.28" cy="674.6" r="3.65"/><circle cx="353.39" cy="674.6" r="3.65"/><circle cx="189.8" cy="690.23" r="3.65"/><circle cx="214.04" cy="690.23" r="3.65"/><circle cx="347.33" cy="690.23" r="3.65"/><circle cx="62.56" cy="705.85" r="3.65"/><circle cx="165.57" cy="721.48" r="3.65"/><circle cx="189.8" cy="721.48" r="3.65"/><circle cx="317.04" cy="737.1" r="3.65"/><circle cx="329.16" cy="737.1" r="3.65"/><circle cx="353.39" cy="737.1" r="3.65"/><circle cx="68.62" cy="752.73" r="3.65"/><circle cx="201.92" cy="752.73" r="3.65"/><circle cx="310.98" cy="783.98" r="3.65"/><circle cx="347.33" cy="783.98" r="3.65"/><circle cx="274.63" cy="815.23" r="3.65"/><circle cx="111.04" cy="830.86" r="3.65"/><circle cx="147.39" cy="830.86" r="3.65"/><circle cx="159.51" cy="830.86" r="3.65"/><circle cx="104.98" cy="846.48" r="3.65"/><circle cx="201.92" cy="846.48" r="3.65"/><circle cx="226.16" cy="846.48" r="3.65"/><circle cx="147.39" cy="862.11" r="3.65"/><circle cx="183.74" cy="862.11" r="3.65"/><circle cx="244.33" cy="862.11" r="3.65"/><circle cx="292.8" cy="862.11" r="3.65"/></g>
<g fill="#EAF6D8"><circle cx="286.74" cy="565.22" r="3.65"/><circle cx="244.33" cy="580.85" r="3.65"/><circle cx="317.04" cy="580.85" r="3.65"/><circle cx="329.16" cy="580.85" r="3.65"/><circle cx="310.98" cy="596.47" r="3.65"/><circle cx="310.98" cy="627.72" r="3.65"/><circle cx="323.1" cy="627.72" r="3.65"/><circle cx="62.56" cy="643.35" r="3.65"/><circle cx="171.62" cy="643.35" r="3.65"/><circle cx="183.74" cy="643.35" r="3.65"/><circle cx="280.69" cy="643.35" r="3.65"/><circle cx="80.74" cy="658.97" r="3.65"/><circle cx="141.33" cy="658.97" r="3.65"/><circle cx="262.51" cy="658.97" r="3.65"/><circle cx="323.1" cy="658.97" r="3.65"/><circle cx="171.62" cy="674.6" r="3.65"/><circle cx="280.69" cy="674.6" r="3.65"/><circle cx="304.92" cy="674.6" r="3.65"/><circle cx="80.74" cy="721.48" r="3.65"/><circle cx="153.45" cy="721.48" r="3.65"/><circle cx="341.28" cy="737.1" r="3.65"/><circle cx="268.57" cy="768.35" r="3.65"/><circle cx="189.8" cy="783.98" r="3.65"/><circle cx="298.86" cy="783.98" r="3.65"/><circle cx="323.1" cy="783.98" r="3.65"/><circle cx="304.92" cy="799.61" r="3.65"/><circle cx="250.39" cy="815.23" r="3.65"/><circle cx="310.98" cy="815.23" r="3.65"/><circle cx="359.45" cy="815.23" r="3.65"/><circle cx="98.92" cy="830.86" r="3.65"/><circle cx="171.62" cy="830.86" r="3.65"/><circle cx="256.45" cy="830.86" r="3.65"/><circle cx="250.39" cy="846.48" r="3.65"/></g>
<g fill="#95C7DF"><circle cx="310.98" cy="565.22" r="3.65"/><circle cx="165.57" cy="627.72" r="3.65"/><circle cx="86.8" cy="643.35" r="3.65"/><circle cx="159.51" cy="643.35" r="3.65"/><circle cx="298.86" cy="658.97" r="3.65"/><circle cx="220.1" cy="674.6" r="3.65"/><circle cx="68.62" cy="690.23" r="3.65"/><circle cx="244.33" cy="768.35" r="3.65"/><circle cx="232.21" cy="799.61" r="3.65"/><circle cx="298.86" cy="815.23" r="3.65"/><circle cx="86.8" cy="862.11" r="3.65"/></g>
<g fill="#D8EFF6"><circle cx="323.1" cy="565.22" r="3.65"/><circle cx="80.74" cy="596.47" r="3.65"/><circle cx="153.45" cy="596.47" r="3.65"/><circle cx="323.1" cy="596.47" r="3.65"/><circle cx="195.86" cy="612.1" r="3.65"/><circle cx="207.98" cy="612.1" r="3.65"/><circle cx="129.21" cy="627.72" r="3.65"/><circle cx="111.04" cy="643.35" r="3.65"/><circle cx="232.21" cy="643.35" r="3.65"/><circle cx="159.51" cy="674.6" r="3.65"/><circle cx="256.45" cy="674.6" r="3.65"/><circle cx="80.74" cy="690.23" r="3.65"/><circle cx="104.98" cy="690.23" r="3.65"/><circle cx="359.45" cy="721.48" r="3.65"/><circle cx="62.56" cy="737.1" r="3.65"/><circle cx="171.62" cy="737.1" r="3.65"/><circle cx="310.98" cy="752.73" r="3.65"/><circle cx="62.56" cy="768.35" r="3.65"/><circle cx="262.51" cy="783.98" r="3.65"/><circle cx="189.8" cy="815.23" r="3.65"/><circle cx="262.51" cy="815.23" r="3.65"/><circle cx="141.33" cy="846.48" r="3.65"/><circle cx="232.21" cy="862.11" r="3.65"/></g>
<g fill="#74ADD1"><circle cx="292.8" cy="580.85" r="3.65"/><circle cx="159.51" cy="612.1" r="3.65"/><circle cx="123.15" cy="674.6" r="3.65"/><circle cx="171.62" cy="768.35" r="3.65"/><circle cx="353.39" cy="768.35" r="3.65"/><circle cx="317.04" cy="799.61" r="3.65"/></g>
<g fill="#F46D43"><circle cx="359.45" cy="627.72" r="3.65"/><circle cx="220.1" cy="705.85" r="3.65"/><circle cx="274.63" cy="721.48" r="3.65"/><circle cx="129.21" cy="752.73" r="3.65"/><circle cx="141.33" cy="752.73" r="3.65"/><circle cx="86.8" cy="768.35" r="3.65"/><circle cx="117.09" cy="783.98" r="3.65"/><circle cx="141.33" cy="783.98" r="3.65"/></g>
<g fill="#F99455"><circle cx="62.56" cy="674.6" r="3.65"/><circle cx="256.45" cy="705.85" r="3.65"/><circle cx="214.04" cy="752.73" r="3.65"/><circle cx="238.27" cy="752.73" r="3.65"/><circle cx="104.98" cy="783.98" r="3.65"/><circle cx="153.45" cy="783.98" r="3.65"/><circle cx="359.45" cy="783.98" r="3.65"/><circle cx="135.27" cy="799.61" r="3.65"/><circle cx="129.21" cy="815.23" r="3.65"/></g>
<g fill="#D73027"><circle cx="226.16" cy="690.23" r="3.65"/><circle cx="250.39" cy="690.23" r="3.65"/><circle cx="232.21" cy="705.85" r="3.65"/><circle cx="244.33" cy="705.85" r="3.65"/><circle cx="238.27" cy="721.48" r="3.65"/><circle cx="250.39" cy="721.48" r="3.65"/><circle cx="262.51" cy="721.48" r="3.65"/><circle cx="207.98" cy="737.1" r="3.65"/><circle cx="220.1" cy="737.1" r="3.65"/><circle cx="232.21" cy="737.1" r="3.65"/><circle cx="256.45" cy="737.1" r="3.65"/><circle cx="226.16" cy="752.73" r="3.65"/><circle cx="250.39" cy="752.73" r="3.65"/><circle cx="262.51" cy="752.73" r="3.65"/><circle cx="135.27" cy="768.35" r="3.65"/><circle cx="92.86" cy="783.98" r="3.65"/></g>
<g fill="#E64E35"><circle cx="238.27" cy="690.23" r="3.65"/><circle cx="268.57" cy="705.85" r="3.65"/><circle cx="111.04" cy="737.1" r="3.65"/><circle cx="123.15" cy="737.1" r="3.65"/><circle cx="268.57" cy="737.1" r="3.65"/><circle cx="80.74" cy="752.73" r="3.65"/><circle cx="92.86" cy="752.73" r="3.65"/><circle cx="104.98" cy="752.73" r="3.65"/><circle cx="117.09" cy="752.73" r="3.65"/><circle cx="111.04" cy="768.35" r="3.65"/><circle cx="147.39" cy="768.35" r="3.65"/><circle cx="129.21" cy="783.98" r="3.65"/><circle cx="111.04" cy="799.61" r="3.65"/><circle cx="80.74" cy="815.23" r="3.65"/><circle cx="117.09" cy="815.23" r="3.65"/><circle cx="141.33" cy="815.23" r="3.65"/></g>
<g fill="#BE1826"><circle cx="207.98" cy="705.85" r="3.65"/><circle cx="201.92" cy="721.48" r="3.65"/><circle cx="226.16" cy="721.48" r="3.65"/><circle cx="98.92" cy="768.35" r="3.65"/><circle cx="123.15" cy="768.35" r="3.65"/><circle cx="74.68" cy="799.61" r="3.65"/><circle cx="147.39" cy="799.61" r="3.65"/><circle cx="104.98" cy="815.23" r="3.65"/></g>
<g fill="#5C91C2"><circle cx="104.98" cy="721.48" r="3.65"/></g>
<g fill="#A50026"><circle cx="123.15" cy="799.61" r="3.65"/></g>
<g fill="#242083"><circle cx="347.33" cy="815.23" r="3.65"/></g>
<rect x="50.69" y="518.02" width="320.64" height="391.3" fill="none" stroke="#000" stroke-width="1"/>
<path d="M62.56 909.31v6.34M50.69 862.11h-6.34M121.94 909.31v6.34M50.69 802.73h-6.34M181.32 909.31v6.34M50.69 743.35h-6.34M240.7 909.31v6.34M50.69 683.98h-6.34M300.07 909.31v6.34M50.69 624.6h-6.34M359.45 909.31v6.34M50.69 565.22h-6.34M62.56 909.31H359.45M50.69 862.11V565.22" stroke="#000" stroke-width="1" fill="none"/>
<text class="a" x="62.56" y="932.72">0</text>
<text class="a" transform="translate(35.68 862.61) rotate(-90)">0</text>
<text class="a" x="121.94" y="932.72">20</text>
<text class="a" transform="translate(35.68 803.23) rotate(-90)">20</text>
<text class="a" x="181.32" y="932.72">40</text>
<text class="a" transform="translate(35.68 743.85) rotate(-90)">40</text>
<text class="a" x="240.7" y="932.72">60</text>
<text class="a" transform="translate(35.68 684.48) rotate(-90)">60</text>
<text class="a" x="300.07" y="932.72">80</text>
<text class="a" transform="translate(35.68 625.1) rotate(-90)">80</text>
<text class="a" x="359.45" y="932.72">100</text>
<text class="a" transform="translate(35.68 565.72) rotate(-90)">100</text>
<text class="a" x="211.01" y="958.27">X</text>
<text class="a" transform="translate(10.14 714.46) rotate(-90)">Y</text>
<text class="t" x="211.01" y="495.7">gene_40</text>
<text class="t" x="211.01" y="512">(cluster pattern)</text>
</g>
<g>
<g fill="#F46D43"><circle cx="452.62" cy="565.22" r="3.65"/><circle cx="573.8" cy="565.22" r="3.65"/><circle cx="682.86" cy="565.22" r="3.65"/><circle cx="731.33" cy="565.22" r="3.65"/><circle cx="507.15" cy="580.85" r="3.65"/><circle cx="640.45" cy="580.85" r="3.65"/><circle cx="676.8" cy="580.85" r="3.65"/><circle cx="670.74" cy="596.47" r="3.65"/><circle cx="585.92" cy="627.72" r="3.65"/><circle cx="670.74" cy="627.72" r="3.65"/><circle cx="707.1" cy="627.72" r="3.65"/><circle cx="688.92" cy="643.35" r="3.65"/><circle cx="476.86" cy="658.97" r="3.65"/><circle cx="743.45" cy="658.97" r="3.65"/><circle cx="713.16" cy="674.6" r="3.65"/><circle cx="573.8" cy="690.23" r="3.65"/><circle cx="585.92" cy="690.23" r="3.65"/><circle cx="470.8" cy="705.85" r="3.65"/><circle cx="604.1" cy="705.85" r="3.65"/><circle cx="652.57" cy="705.85" r="3.65"/><circle cx="701.04" cy="705.85" r="3.65"/><circle cx="549.57" cy="721.48" r="3.65"/><circle cx="719.22" cy="721.48" r="3.65"/><circle cx="482.92" cy="737.1" r="3.65"/><circle cx="543.51" cy="737.1" r="3.65"/><circle cx="591.98" cy="737.1" r="3.65"/><circle cx="737.39" cy="737.1" r="3.65"/><circle cx="464.74" cy="752.73" r="3.65"/><circle cx="513.21" cy="752.73" r="3.65"/><circle cx="495.04" cy="768.35" r="3.65"/><circle cx="531.39" cy="768.35" r="3.65"/><circle cx="676.8" cy="768.35" r="3.65"/><circle cx="658.63" cy="783.98" r="3.65"/><circle cx="701.04" cy="799.61" r="3.65"/><circle cx="725.28" cy="799.61" r="3.65"/><circle cx="476.86" cy="815.23" r="3.65"/><circle cx="670.74" cy="815.23" r="3.65"/><circle cx="543.51" cy="830.86" r="3.65"/><circle cx="561.68" cy="846.48" r="3.65"/><circle cx="694.98" cy="846.48" r="3.65"/><circle cx="458.68" cy="862.11" r="3.65"/><circle cx="482.92" cy="862.11" r="3.65"/><circle cx="567.74" cy="862.11" r="3.65"/></g>
<g fill="#FFFDB4"><circle cx="464.74" cy="565.22" r="3.65"/><circle cx="694.98" cy="565.22" r="3.65"/><circle cx="446.56" cy="580.85" r="3.65"/><circle cx="579.86" cy="612.1" r="3.65"/><circle cx="488.98" cy="627.72" r="3.65"/><circle cx="488.98" cy="658.97" r="3.65"/><circle cx="622.27" cy="658.97" r="3.65"/><circle cx="694.98" cy="658.97" r="3.65"/><circle cx="555.62" cy="674.6" r="3.65"/><circle cx="737.39" cy="674.6" r="3.65"/><circle cx="610.16" cy="690.23" r="3.65"/><circle cx="682.86" cy="690.23" r="3.65"/><circle cx="519.27" cy="705.85" r="3.65"/><circle cx="713.16" cy="768.35" r="3.65"/><circle cx="737.39" cy="768.35" r="3.65"/><circle cx="476.86" cy="783.98" r="3.65"/><circle cx="682.86" cy="783.98" r="3.65"/><circle cx="707.1" cy="783.98" r="3.65"/><circle cx="676.8" cy="799.61" r="3.65"/><circle cx="567.74" cy="830.86" r="3.65"/><circle cx="598.04" cy="846.48" r="3.65"/><circle cx="555.62" cy="862.11" r="3.65"/></g>
<g fill="#FDAE61"><circle cx="476.86" cy="565.22" r="3.65"/><circle cx="488.98" cy="565.22" r="3.65"/><circle cx="610.16" cy="565.22" r="3.65"/><circle cx="634.39" cy="565.22" r="3.65"/><circle cx="658.63" cy="565.22" r="3.65"/><circle cx="495.04" cy="580.85" r="3.65"/><circle cx="555.62" cy="580.85" r="3.65"/><circle cx="616.21" cy="580.85" r="3.65"/><circle cx="652.57" cy="580.85" r="3.65"/><circle cx="664.69" cy="580.85" r="3.65"/><circle cx="452.62" cy="596.47" r="3.65"/><circle cx="513.21" cy="596.47" r="3.65"/><circle cx="585.92" cy="596.47" r="3.65"/><circle cx="610.16" cy="596.47" r="3.65"/><circle cx="622.27" cy="596.47" r="3.65"/><circle cx="658.63" cy="596.47" r="3.65"/><circle cx="694.98" cy="596.47" r="3.65"/><circle cx="743.45" cy="596.47" r="3.65"/><circle cx="446.56" cy="612.1" r="3.65"/><circle cx="507.15" cy="612.1" r="3.65"/><circle cx="519.27" cy="612.1" r="3.65"/><circle cx="543.51" cy="612.1" r="3.65"/><circle cx="604.1" cy="612.1" r="3.65"/><circle cx="664.69" cy="612.1" r="3.65"/><circle cx="676.8" cy="612.1" r="3.65"/><circle cx="537.45" cy="627.72" r="3.65"/><circle cx="561.68" cy="627.72" r="3.65"/><circle cx="598.04" cy="627.72" r="3.65"/><circle cx="634.39" cy="627.72" r="3.65"/><circle cx="646.51" cy="627.72" r="3.65"/><circle cx="694.98" cy="627.72" r="3.65"/><circle cx="731.33" cy="627.72" r="3.65"/><circle cx="446.56" cy="643.35" r="3.65"/><circle cx="519.27" cy="643.35" r="3.65"/><circle cx="531.39" cy="643.35" r="3.65"/><circle cx="579.86" cy="643.35" r="3.65"/><circle cx="616.21" cy="643.35" r="3.65"/><circle cx="628.33" cy="643.35" r="3.65"/><circle cx="737.39" cy="643.35" r="3.65"/><circle cx="464.74" cy="658.97" r="3.65"/><circle cx="501.09" cy="658.97" r="3.65"/><circle cx="561.68" cy="658.97" r="3.65"/><circle cx="598.04" cy="658.97" r="3.65"/><circle cx="610.16" cy="658.97" r="3.65"/><circle cx="682.86" cy="658.97" r="3.65"/><circle cx="470.8" cy="674.6" r="3.65"/><circle cx="604.1" cy="674.6" r="3.65"/><circle cx="664.69" cy="674.6" r="3.65"/><circle cx="676.8" cy="674.6" r="3.65"/><circle cx="688.92" cy="674.6" r="3.65"/><circle cx="701.04" cy="674.6" r="3.65"/><circle cx="464.74" cy="690.23" r="3.65"/><circle cx="476.86" cy="690.23" r="3.65"/><circle cx="537.45" cy="690.23" r="3.65"/><circle cx="622.27" cy="690.23" r="3.65"/><circle cx="634.39" cy="690.23" r="3.65"/><circle cx="707.1" cy="690.23" r="3.65"/><circle cx="731.33" cy="690.23" r="3.65"/><circle cx="507.15" cy="705.85" r="3.65"/><circle cx="567.74" cy="705.85" r="3.65"/><circle cx="591.98" cy="705.85" r="3.65"/><circle cx="640.45" cy="705.85" r="3.65"/><circle cx="676.8" cy="705.85" r="3.65"/><circle cx="713.16" cy="705.85" r="3.65"/><circle cx="464.74" cy="721.48" r="3.65"/><circle cx="501.09" cy="721.48" r="3.65"/><circle cx="446.56" cy="737.1" r="3.65"/><circle cx="458.68" cy="737.1" r="3.65"/><circle cx="507.15" cy="737.1" r="3.65"/><circle cx="519.27" cy="737.1" r="3.65"/><circle cx="476.86" cy="752.73" r="3.65"/><circle cx="573.8" cy="752.73" r="3.65"/><circle cx="610.16" cy="752.73" r="3.65"/><circle cx="622.27" cy="752.73" r="3.65"/><circle cx="646.51" cy="752.73" r="3.65"/><circle cx="743.45" cy="752.73" r="3.65"/><circle cx="470.8" cy="768.35" r="3.65"/><circle cx="482.92" cy="768.35" r="3.65"/><circle cx="555.62" cy="768.35" r="3.65"/><circle cx="628.33" cy="768.35" r="3.65"/><circle cx="652.57" cy="768.35" r="3.65"/><circle cx="501.09" cy="783.98" r="3.65"/><circle cx="513.21" cy="783.98" r="3.65"/><circle cx="537.45" cy="783.98" r="3.65"/><circle cx="549.57" cy="783.98" r="3.65"/><circle cx="573.8" cy="783.98" r="3.65"/><circle cx="482.92" cy="799.61" r="3.65"/><circle cx="519.27" cy="799.61" r="3.65"/><circle cx="531.39" cy="799.61" r="3.65"/><circle cx="591.98" cy="799.61" r="3.65"/><circle cx="604.1" cy="799.61" r="3.65"/><circle cx="616.21" cy="799.61" r="3.65"/><circle cx="640.45" cy="799.61" r="3.65"/><circle cx="664.69" cy="799.61" r="3.65"/><circle cx="573.8" cy="815.23" r="3.65"/><circle cx="658.63" cy="815.23" r="3.65"/><circle cx="682.86" cy="815.23" r="3.65"/><circle cx="694.98" cy="815.23" r="3.65"/><circle cx="707.1" cy="815.23" r="3.65"/><circle cx="446.56" cy="830.86" r="3.65"/><circle cx="458.68" cy="830.86" r="3.65"/><circle cx="519.27" cy="830.86" r="3.65"/><circle cx="591.98" cy="830.86" r="3.65"/><circle cx="628.33" cy="830.86" r="3.65"/><circle cx="737.39" cy="830.86" r="3.65"/><circle cx="634.39" cy="846.48" r="3.65"/><circle cx="719.22" cy="846.48" r="3.65"/><circle cx="731.33" cy="846.48" r="3.65"/><circle cx="676.8" cy="862.11" r="3.65"/></g>
<g fill="#FEC778"><circle cx="501.09" cy="565.22" r="3.65"/><circle cx="585.92" cy="565.22" r="3.65"/><circle cx="719.22" cy="565.22" r="3.65"/><circle cx="470.8" cy="580.85" r="3.65"/><circle cx="591.98" cy="580.85" r="3.65"/><circle cx="634.39" cy="596.47" r="3.65"/><circle cx="731.33" cy="596.47" r="3.65"/><circle cx="725.28" cy="612.1" r="3.65"/><circle cx="743.45" cy="627.72" r="3.65"/><circle cx="470.8" cy="643.35" r="3.65"/><circle cx="495.04" cy="643.35" r="3.65"/><circle cx="543.51" cy="643.35" r="3.65"/><circle cx="604.1" cy="643.35" r="3.65"/><circle cx="664.69" cy="643.35" r="3.65"/><circle cx="713.16" cy="643.35" r="3.65"/><circle cx="616.21" cy="674.6" r="3.65"/><circle cx="640.45" cy="674.6" r="3.65"/><circle cx="501.09" cy="690.23" r="3.65"/><circle cx="513.21" cy="690.23" r="3.65"/><circle cx="458.68" cy="705.85" r="3.65"/><circle cx="579.86" cy="705.85" r="3.65"/><circle cx="628.33" cy="705.85" r="3.65"/><circle cx="664.69" cy="705.85" r="3.65"/><circle cx="476.86" cy="721.48" r="3.65"/><circle cx="488.98" cy="721.48" r="3.65"/><circle cx="622.27" cy="721.48" r="3.65"/><circle cx="707.1" cy="721.48" r="3.65"/><circle cx="531.39" cy="737.1" r="3.65"/><circle cx="628.33" cy="737.1" r="3.65"/><circle cx="713.16" cy="737.1" r="3.65"/><circle cx="725.28" cy="737.1" r="3.65"/><circle cx="537.45" cy="752.73" r="3.65"/><circle cx="549.57" cy="752.73" r="3.65"/><circle cx="585.92" cy="752.73" r="3.65"/><circle cx="598.04" cy="752.73" r="3.65"/><circle cx="670.74" cy="752.73" r="3.65"/><circle cx="507.15" cy="768.35" r="3.65"/><circle cx="719.22" cy="783.98" r="3.65"/><circle cx="567.74" cy="799.61" r="3.65"/><circle cx="579.86" cy="799.61" r="3.65"/><circle cx="464.74" cy="815.23" r="3.65"/><circle cx="537.45" cy="815.23" r="3.65"/><circle cx="561.68" cy="815.23" r="3.65"/><circle cx="585.92" cy="815.23" r="3.65"/><circle cx="646.51" cy="815.23" r="3.65"/><circle cx="731.33" cy="815.23" r="3.65"/><circle cx="579.86" cy="830.86" r="3.65"/><circle cx="525.33" cy="846.48" r="3.65"/><circle cx="573.8" cy="846.48" r="3.65"/><circle cx="610.16" cy="846.48" r="3.65"/><circle cx="579.86" cy="862.11" r="3.65"/><circle cx="652.57" cy="862.11" r="3.65"/></g>
<g fill="#FEE38C"><circle cx="513.21" cy="565.22" r="3.65"/><circle cx="531.39" cy="580.85" r="3.65"/><circle cx="604.1" cy="580.85" r="3.65"/><circle cx="725.28" cy="580.85" r="3.65"/><circle cx="737.39" cy="580.85" r="3.65"/><circle cx="464.74" cy="596.47" r="3.65"/><circle cx="476.86" cy="596.47" r="3.65"/><circle cx="525.33" cy="596.47" r="3.65"/><circle cx="573.8" cy="596.47" r="3.65"/><circle cx="531.39" cy="612.1" r="3.65"/><circle cx="658.63" cy="627.72" r="3.65"/><circle cx="537.45" cy="658.97" r="3.65"/><circle cx="707.1" cy="658.97" r="3.65"/><circle cx="628.33" cy="674.6" r="3.65"/><circle cx="525.33" cy="690.23" r="3.65"/><circle cx="670.74" cy="690.23" r="3.65"/><circle cx="452.62" cy="721.48" r="3.65"/><circle cx="525.33" cy="721.48" r="3.65"/><circle cx="573.8" cy="721.48" r="3.65"/><circle cx="610.16" cy="721.48" r="3.65"/><circle cx="694.98" cy="721.48" r="3.65"/><circle cx="743.45" cy="721.48" r="3.65"/><circle cx="470.8" cy="737.1" r="3.65"/><circle cx="652.57" cy="737.1" r="3.65"/><circle cx="452.62" cy="752.73" r="3.65"/><circle cx="694.98" cy="752.73" r="3.65"/><circle cx="519.27" cy="768.35" r="3.65"/><circle cx="567.74" cy="768.35" r="3.65"/><circle cx="579.86" cy="768.35" r="3.65"/><circle cx="616.21" cy="768.35" r="3.65"/><circle cx="585.92" cy="783.98" r="3.65"/><circle cx="622.27" cy="783.98" r="3.65"/><circle cx="731.33" cy="783.98" r="3.65"/><circle cx="446.56" cy="799.61" r="3.65"/><circle cx="495.04" cy="799.61" r="3.65"/><circle cx="507.15" cy="799.61" r="3.65"/><circle cx="688.92" cy="799.61" r="3.65"/><circle cx="549.57" cy="815.23" r="3.65"/><circle cx="610.16" cy="815.23" r="3.65"/><circle cx="634.39" cy="815.23" r="3.65"/><circle cx="743.45" cy="815.23" r="3.65"/><circle cx="652.57" cy="830.86" r="3.65"/><circle cx="725.28" cy="830.86" r="3.65"/><circle cx="646.51" cy="846.48" r="3.65"/><circle cx="682.86" cy="846.48" r="3.65"/><circle cx="591.98" cy="862.11" r="3.65"/><circle cx="604.1" cy="862.11" r="3.65"/><circle cx="616.21" cy="862.11" r="3.65"/><circle cx="640.45" cy="862.11" r="3.65"/></g>
<g fill="#E64E35"><circle cx="525.33" cy="565.22" r="3.65"/><circle cx="646.51" cy="565.22" r="3.65"/><circle cx="482.92" cy="580.85" r="3.65"/><circle cx="628.33" cy="580.85" r="3.65"/><circle cx="701.04" cy="580.85" r="3.65"/><circle cx="537.45" cy="596.47" r="3.65"/><circle cx="549.57" cy="596.47" r="3.65"/><circle cx="598.04" cy="596.47" r="3.65"/><circle cx="646.51" cy="596.47" r="3.65"/><circle cx="495.04" cy="612.1" r="3.65"/><circle cx="628.33" cy="612.1" r="3.65"/><circle cx="701.04" cy="612.1" r="3.65"/><circle cx="452.62" cy="627.72" r="3.65"/><circle cx="464.74" cy="627.72" r="3.65"/><circle cx="501.09" cy="627.72" r="3.65"/><circle cx="507.15" cy="643.35" r="3.65"/><circle cx="555.62" cy="643.35" r="3.65"/><circle cx="567.74" cy="643.35" r="3.65"/><circle cx="573.8" cy="658.97" r="3.65"/><circle cx="658.63" cy="658.97" r="3.65"/><circle cx="731.33" cy="658.97" r="3.65"/><circle cx="458.68" cy="674.6" r="3.65"/><circle cx="531.39" cy="674.6" r="3.65"/><circle cx="646.51" cy="690.23" r="3.65"/><circle cx="694.98" cy="690.23" r="3.65"/><circle cx="737.39" cy="705.85" r="3.65"/><circle cx="585.92" cy="721.48" r="3.65"/><circle cx="634.39" cy="721.48" r="3.65"/><circle cx="567.74" cy="737.1" r="3.65"/><circle cx="604.1" cy="737.1" r="3.65"/><circle cx="640.45" cy="737.1" r="3.65"/><circle cx="701.04" cy="737.1" r="3.65"/><circle cx="501.09" cy="752.73" r="3.65"/><circle cx="682.86" cy="752.73" r="3.65"/><circle cx="664.69" cy="768.35" r="3.65"/><circle cx="701.04" cy="768.35" r="3.65"/><circle cx="464.74" cy="783.98" r="3.65"/><circle cx="561.68" cy="783.98" r="3.65"/><circle cx="470.8" cy="799.61" r="3.65"/><circle cx="543.51" cy="799.61" r="3.65"/><circle cx="713.16" cy="799.61" r="3.65"/><circle cx="737.39" cy="799.61" r="3.65"/><circle cx="470.8" cy="830.86" r="3.65"/><circle cx="555.62" cy="830.86" r="3.65"/><circle cx="616.21" cy="830.86" r="3.65"/><circle cx="640.45" cy="830.86" r="3.65"/><circle cx="688.92" cy="830.86" r="3.65"/><circle cx="701.04" cy="830.86" r="3.65"/><circle cx="713.16" cy="830.86" r="3.65"/><circle cx="549.57" cy="846.48" r="3.65"/><circle cx="658.63" cy="846.48" r="3.65"/><circle cx="446.56" cy="862.11" r="3.65"/><circle cx="470.8" cy="862.11" r="3.65"/><circle cx="664.69" cy="862.11" r="3.65"/><circle cx="688.92" cy="862.11" r="3.65"/></g>
<g fill="#F99455"><circle cx="537.45" cy="565.22" r="3.65"/><circle cx="549.57" cy="565.22" r="3.65"/><circle cx="670.74" cy="565.22" r="3.65"/><circle cx="707.1" cy="565.22" r="3.65"/><circle cx="579.86" cy="580.85" r="3.65"/><circle cx="501.09" cy="596.47" r="3.65"/><circle cx="707.1" cy="596.47" r="3.65"/><circle cx="719.22" cy="596.47" r="3.65"/><circle cx="458.68" cy="612.1" r="3.65"/><circle cx="555.62" cy="612.1" r="3.65"/><circle cx="567.74" cy="612.1" r="3.65"/><circle cx="591.98" cy="612.1" r="3.65"/><circle cx="616.21" cy="612.1" r="3.65"/><circle cx="640.45" cy="612.1" r="3.65"/><circle cx="737.39" cy="612.1" r="3.65"/><circle cx="549.57" cy="627.72" r="3.65"/><circle cx="610.16" cy="627.72" r="3.65"/><circle cx="622.27" cy="627.72" r="3.65"/><circle cx="652.57" cy="643.35" r="3.65"/><circle cx="452.62" cy="658.97" r="3.65"/><circle cx="719.22" cy="658.97" r="3.65"/><circle cx="446.56" cy="674.6" r="3.65"/><circle cx="482.92" cy="674.6" r="3.65"/><circle cx="507.15" cy="674.6" r="3.65"/><circle cx="519.27" cy="674.6" r="3.65"/><circle cx="543.51" cy="674.6" r="3.65"/><circle cx="591.98" cy="674.6" r="3.65"/><circle cx="488.98" cy="690.23" r="3.65"/><circle cx="549.57" cy="690.23" r="3.65"/><circle cx="743.45" cy="690.23" r="3.65"/><circle cx="446.56" cy="705.85" r="3.65"/><circle cx="482.92" cy="705.85" r="3.65"/><circle cx="555.62" cy="705.85" r="3.65"/><circle cx="537.45" cy="721.48" r="3.65"/><circle cx="598.04" cy="721.48" r="3.65"/><circle cx="682.86" cy="721.48" r="3.65"/><circle cx="731.33" cy="721.48" r="3.65"/><circle cx="495.04" cy="737.1" r="3.65"/><circle cx="604.1" cy="768.35" r="3.65"/><circle cx="452.62" cy="783.98" r="3.65"/><circle cx="610.16" cy="783.98" r="3.65"/><circle cx="646.51" cy="783.98" r="3.65"/><circle cx="670.74" cy="783.98" r="3.65"/><circle cx="743.45" cy="783.98" r="3.65"/><circle cx="628.33" cy="799.61" r="3.65"/><circle cx="488.98" cy="815.23" r="3.65"/><circle cx="501.09" cy="815.23" r="3.65"/><circle cx="513.21" cy="815.23" r="3.65"/><circle cx="525.33" cy="815.23" r="3.65"/><circle cx="598.04" cy="815.23" r="3.65"/><circle cx="622.27" cy="815.23" r="3.65"/><circle cx="676.8" cy="830.86" r="3.65"/><circle cx="501.09" cy="846.48" r="3.65"/><circle cx="537.45" cy="846.48" r="3.65"/><circle cx="585.92" cy="846.48" r="3.65"/><circle cx="519.27" cy="862.11" r="3.65"/><circle cx="543.51" cy="862.11" r="3.65"/><circle cx="701.04" cy="862.11" r="3.65"/><circle cx="737.39" cy="862.11" r="3.65"/></g>
<g fill="#D73027"><circle cx="561.68" cy="565.22" r="3.65"/><circle cx="743.45" cy="565.22" r="3.65"/><circle cx="543.51" cy="580.85" r="3.65"/><circle cx="482.92" cy="612.1" r="3.65"/><circle cx="513.21" cy="627.72" r="3.65"/><circle cx="573.8" cy="627.72" r="3.65"/><circle cx="591.98" cy="643.35" r="3.65"/><circle cx="585.92" cy="658.97" r="3.65"/><circle cx="543.51" cy="705.85" r="3.65"/><circle cx="616.21" cy="705.85" r="3.65"/><circle cx="658.63" cy="721.48" r="3.65"/><circle cx="579.86" cy="737.1" r="3.65"/><circle cx="616.21" cy="737.1" r="3.65"/><circle cx="676.8" cy="737.1" r="3.65"/><circle cx="488.98" cy="752.73" r="3.65"/><circle cx="446.56" cy="768.35" r="3.65"/><circle cx="640.45" cy="768.35" r="3.65"/><circle cx="482.92" cy="830.86" r="3.65"/><circle cx="531.39" cy="830.86" r="3.65"/><circle cx="476.86" cy="846.48" r="3.65"/><circle cx="495.04" cy="862.11" r="3.65"/><circle cx="507.15" cy="862.11" r="3.65"/></g>
<g fill="#EFF9C6"><circle cx="598.04" cy="565.22" r="3.65"/><circle cx="622.27" cy="565.22" r="3.65"/><circle cx="688.92" cy="580.85" r="3.65"/><circle cx="470.8" cy="612.1" r="3.65"/><circle cx="688.92" cy="612.1" r="3.65"/><circle cx="719.22" cy="690.23" r="3.65"/><circle cx="561.68" cy="721.48" r="3.65"/><circle cx="507.15" cy="830.86" r="3.65"/><circle cx="488.98" cy="846.48" r="3.65"/><circle cx="707.1" cy="846.48" r="3.65"/></g>
<g fill="#C8E7F1"><circle cx="458.68" cy="580.85" r="3.65"/><circle cx="652.57" cy="612.1" r="3.65"/><circle cx="713.16" cy="612.1" r="3.65"/><circle cx="725.28" cy="643.35" r="3.65"/><circle cx="525.33" cy="752.73" r="3.65"/><circle cx="707.1" cy="752.73" r="3.65"/><circle cx="555.62" cy="799.61" r="3.65"/></g>
<g fill="#FFF19C"><circle cx="519.27" cy="580.85" r="3.65"/><circle cx="525.33" cy="627.72" r="3.65"/><circle cx="719.22" cy="627.72" r="3.65"/><circle cx="458.68" cy="643.35" r="3.65"/><circle cx="652.57" cy="674.6" r="3.65"/><circle cx="452.62" cy="690.23" r="3.65"/><circle cx="719.22" cy="752.73" r="3.65"/><circle cx="725.28" cy="768.35" r="3.65"/><circle cx="634.39" cy="783.98" r="3.65"/><circle cx="694.98" cy="783.98" r="3.65"/><circle cx="458.68" cy="799.61" r="3.65"/><circle cx="495.04" cy="830.86" r="3.65"/><circle cx="452.62" cy="846.48" r="3.65"/><circle cx="743.45" cy="846.48" r="3.65"/></g>
<g fill="#BE1826"><circle cx="567.74" cy="580.85" r="3.65"/><circle cx="476.86" cy="627.72" r="3.65"/><circle cx="682.86" cy="627.72" r="3.65"/><circle cx="640.45" cy="643.35" r="3.65"/><circle cx="634.39" cy="658.97" r="3.65"/><circle cx="646.51" cy="658.97" r="3.65"/><circle cx="567.74" cy="674.6" r="3.65"/><circle cx="658.63" cy="690.23" r="3.65"/><circle cx="664.69" cy="737.1" r="3.65"/><circle cx="731.33" cy="752.73" r="3.65"/><circle cx="591.98" cy="768.35" r="3.65"/><circle cx="688.92" cy="768.35" r="3.65"/><circle cx="488.98" cy="783.98" r="3.65"/><circle cx="664.69" cy="830.86" r="3.65"/><circle cx="670.74" cy="846.48" r="3.65"/><circle cx="713.16" cy="862.11" r="3.65"/></g>
<g fill="#EAF6D8"><circle cx="713.16" cy="580.85" r="3.65"/><circle cx="561.68" cy="596.47" r="3.65"/><circle cx="725.28" cy="674.6" r="3.65"/><circle cx="531.39" cy="862.11" r="3.65"/><circle cx="725.28" cy="862.11" r="3.65"/></g>
<g fill="#E2F3E4"><circle cx="488.98" cy="596.47" r="3.65"/><circle cx="676.8" cy="643.35" r="3.65"/><circle cx="701.04" cy="643.35" r="3.65"/><circle cx="513.21" cy="658.97" r="3.65"/><circle cx="549.57" cy="658.97" r="3.65"/><circle cx="646.51" cy="721.48" r="3.65"/><circle cx="688.92" cy="737.1" r="3.65"/><circle cx="634.39" cy="752.73" r="3.65"/><circle cx="458.68" cy="768.35" r="3.65"/><circle cx="525.33" cy="783.98" r="3.65"/><circle cx="452.62" cy="815.23" r="3.65"/><circle cx="604.1" cy="830.86" r="3.65"/><circle cx="513.21" cy="846.48" r="3.65"/><circle cx="622.27" cy="846.48" r="3.65"/></g>
<g fill="#242083"><circle cx="682.86" cy="596.47" r="3.65"/></g>
<g fill="#A50026"><circle cx="482.92" cy="643.35" r="3.65"/><circle cx="495.04" cy="674.6" r="3.65"/><circle cx="561.68" cy="690.23" r="3.65"/><circle cx="598.04" cy="690.23" r="3.65"/><circle cx="725.28" cy="705.85" r="3.65"/><circle cx="513.21" cy="721.48" r="3.65"/><circle cx="658.63" cy="752.73" r="3.65"/><circle cx="652.57" cy="799.61" r="3.65"/><circle cx="719.22" cy="815.23" r="3.65"/><circle cx="628.33" cy="862.11" r="3.65"/></g>
<g fill="#ABD9E9"><circle cx="525.33" cy="658.97" r="3.65"/></g>
<g fill="#D8EFF6"><circle cx="670.74" cy="658.97" r="3.65"/><circle cx="531.39" cy="705.85" r="3.65"/><circle cx="555.62" cy="737.1" r="3.65"/><circle cx="543.51" cy="768.35" r="3.65"/></g>
<g fill="#5C91C2"><circle cx="579.86" cy="674.6" r="3.65"/></g>
<g fill="#74ADD1"><circle cx="495.04" cy="705.85" r="3.65"/><circle cx="688.92" cy="705.85" r="3.65"/><circle cx="670.74" cy="721.48" r="3.65"/><circle cx="561.68" cy="752.73" r="3.65"/><circle cx="598.04" cy="783.98" r="3.65"/></g>
<g fill="#95C7DF"><circle cx="464.74" cy="846.48" r="3.65"/></g>
<rect x="434.69" y="518.02" width="320.64" height="391.3" fill="none" stroke="#000" stroke-width="1"/>
<path d="M446.56 909.31v6.34M434.69 862.11h-6.34M505.94 909.31v6.34M434.69 802.73h-6.34M565.32 909.31v6.34M434.69 743.35h-6.34M624.7 909.31v6.34M434.69 683.98h-6.34M684.07 909.31v6.34M434.69 624.6h-6.34M743.45 909.31v6.34M434.69 565.22h-6.34M446.56 909.31H743.45M434.69 862.11V565.22" stroke="#000" stroke-width="1" fill="none"/>
<text class="a" x="446.56" y="932.72">0</text>
<text class="a" transform="translate(419.68 862.61) rotate(-90)">0</text>
<text class="a" x="505.94" y="932.72">20</text>
<text class="a" transform="translate(419.68 803.23) rotate(-90)">20</text>
<text class="a" x="565.32" y="932.72">40</text>
<text class="a" transform="translate(419.68 743.85) rotate(-90)">40</text>
<text class="a" x="624.7" y="932.72">60</text>
<text class="a" transform="translate(419.68 684.48) rotate(-90)">60</text>
<text class="a" x="684.07" y="932.72">80</text>
<text class="a" transform="translate(419.68 625.1) rotate(-90)">80</text>
<text class="a" x="743.45" y="932.72">100</text>
<text class="a" transform="translate(419.68 565.72) rotate(-90)">100</text>
<text class="a" x="595.01" y="958.27">X</text>
<text class="a" transform="translate(394.14 714.46) rotate(-90)">Y</text>
<text class="t" x="595.01" y="495.7">gene_51</text>
<text class="t" x="595.01" y="512">(non-SVG, random)</text>
</g>
</svg>
</body></html>
